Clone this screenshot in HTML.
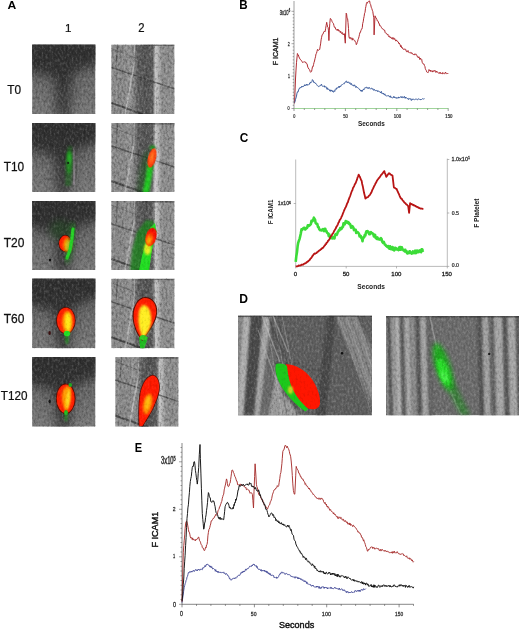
<!DOCTYPE html>
<html><head><meta charset="utf-8"><style>
html,body{margin:0;padding:0;background:#fff;}
svg{display:block;font-family:"Liberation Sans", sans-serif;filter:blur(0.3px);}
</style></head><body>
<svg width="520" height="629" viewBox="0 0 520 629">
<defs><filter id="nw" x="0" y="0" width="1" height="1" filterUnits="objectBoundingBox"><feTurbulence type="fractalNoise" baseFrequency="0.5 0.32" numOctaves="3" seed="3"/><feColorMatrix type="matrix" values="0 0 0 0 1  0 0 0 0 1  0 0 0 0 1  1.6 0 0 0 -0.8"/></filter>
<filter id="nb" x="0" y="0" width="1" height="1" filterUnits="objectBoundingBox"><feTurbulence type="fractalNoise" baseFrequency="0.5 0.32" numOctaves="3" seed="3"/><feColorMatrix type="matrix" values="0 0 0 0 0  0 0 0 0 0  0 0 0 0 0  -1.6 0 0 0 0.8"/></filter>
<linearGradient id="g1va0" x1="0" y1="0" x2="0" y2="1"><stop offset="0" stop-color="#2e2e2e" stop-opacity="1"/><stop offset="0.4" stop-color="#2e2e2e" stop-opacity="0.92"/><stop offset="1" stop-color="#2e2e2e" stop-opacity="0.68"/></linearGradient>
<clipPath id="ca0"><rect x="32.1" y="44.4" width="63.4" height="69.6"/></clipPath>
<linearGradient id="g1ba0" x1="0" y1="0" x2="0" y2="1"><stop offset="0.3" stop-color="#626262"/><stop offset="1" stop-color="#787878"/></linearGradient>
<linearGradient id="g2hb0" x1="0" y1="0" x2="1" y2="0"><stop offset="0" stop-color="#8a8a8a"/><stop offset="0.2" stop-color="#888"/><stop offset="0.3" stop-color="#929292"/><stop offset="0.37" stop-color="#7c7c7c"/><stop offset="0.42" stop-color="#5e5e5e"/><stop offset="0.55" stop-color="#545454"/><stop offset="0.655" stop-color="#5e5e5e"/><stop offset="0.7" stop-color="#c4c4c4"/><stop offset="0.745" stop-color="#b0b0b0"/><stop offset="0.8" stop-color="#8c8c8c"/><stop offset="1" stop-color="#8e8e8e"/></linearGradient>
<clipPath id="cb0"><rect x="111.2" y="44.4" width="63.4" height="69.6"/></clipPath>
<linearGradient id="g1va1" x1="0" y1="0" x2="0" y2="1"><stop offset="0" stop-color="#2e2e2e" stop-opacity="1"/><stop offset="0.4" stop-color="#2e2e2e" stop-opacity="0.92"/><stop offset="1" stop-color="#2e2e2e" stop-opacity="0.68"/></linearGradient>
<clipPath id="ca1"><rect x="32.1" y="123" width="63.4" height="69"/></clipPath>
<linearGradient id="g1ba1" x1="0" y1="0" x2="0" y2="1"><stop offset="0.3" stop-color="#626262"/><stop offset="1" stop-color="#787878"/></linearGradient>
<linearGradient id="g2hb1" x1="0" y1="0" x2="1" y2="0"><stop offset="0" stop-color="#8a8a8a"/><stop offset="0.2" stop-color="#888"/><stop offset="0.3" stop-color="#929292"/><stop offset="0.37" stop-color="#7c7c7c"/><stop offset="0.42" stop-color="#5e5e5e"/><stop offset="0.55" stop-color="#545454"/><stop offset="0.655" stop-color="#5e5e5e"/><stop offset="0.7" stop-color="#c4c4c4"/><stop offset="0.745" stop-color="#b0b0b0"/><stop offset="0.8" stop-color="#8c8c8c"/><stop offset="1" stop-color="#8e8e8e"/></linearGradient>
<clipPath id="cb1"><rect x="111.2" y="123" width="63.4" height="69"/></clipPath>
<linearGradient id="g1va2" x1="0" y1="0" x2="0" y2="1"><stop offset="0" stop-color="#2e2e2e" stop-opacity="1"/><stop offset="0.4" stop-color="#2e2e2e" stop-opacity="0.92"/><stop offset="1" stop-color="#2e2e2e" stop-opacity="0.68"/></linearGradient>
<clipPath id="ca2"><rect x="32.1" y="201" width="63.4" height="69"/></clipPath>
<linearGradient id="g1ba2" x1="0" y1="0" x2="0" y2="1"><stop offset="0.3" stop-color="#626262"/><stop offset="1" stop-color="#787878"/></linearGradient>
<linearGradient id="g2hb2" x1="0" y1="0" x2="1" y2="0"><stop offset="0" stop-color="#8a8a8a"/><stop offset="0.2" stop-color="#888"/><stop offset="0.3" stop-color="#929292"/><stop offset="0.37" stop-color="#7c7c7c"/><stop offset="0.42" stop-color="#5e5e5e"/><stop offset="0.55" stop-color="#545454"/><stop offset="0.655" stop-color="#5e5e5e"/><stop offset="0.7" stop-color="#c4c4c4"/><stop offset="0.745" stop-color="#b0b0b0"/><stop offset="0.8" stop-color="#8c8c8c"/><stop offset="1" stop-color="#8e8e8e"/></linearGradient>
<clipPath id="cb2"><rect x="111.2" y="201" width="63.4" height="69"/></clipPath>
<linearGradient id="g1va3" x1="0" y1="0" x2="0" y2="1"><stop offset="0" stop-color="#2e2e2e" stop-opacity="1"/><stop offset="0.4" stop-color="#2e2e2e" stop-opacity="0.92"/><stop offset="1" stop-color="#2e2e2e" stop-opacity="0.68"/></linearGradient>
<clipPath id="ca3"><rect x="32.1" y="278.6" width="63.4" height="69.7"/></clipPath>
<linearGradient id="g1ba3" x1="0" y1="0" x2="0" y2="1"><stop offset="0.3" stop-color="#626262"/><stop offset="1" stop-color="#787878"/></linearGradient>
<linearGradient id="g2hb3" x1="0" y1="0" x2="1" y2="0"><stop offset="0" stop-color="#8a8a8a"/><stop offset="0.2" stop-color="#888"/><stop offset="0.3" stop-color="#929292"/><stop offset="0.37" stop-color="#7c7c7c"/><stop offset="0.42" stop-color="#5e5e5e"/><stop offset="0.55" stop-color="#545454"/><stop offset="0.655" stop-color="#5e5e5e"/><stop offset="0.7" stop-color="#c4c4c4"/><stop offset="0.745" stop-color="#b0b0b0"/><stop offset="0.8" stop-color="#8c8c8c"/><stop offset="1" stop-color="#8e8e8e"/></linearGradient>
<clipPath id="cb3"><rect x="111.2" y="278.6" width="63.4" height="69.7"/></clipPath>
<linearGradient id="g1va4" x1="0" y1="0" x2="0" y2="1"><stop offset="0" stop-color="#2e2e2e" stop-opacity="1"/><stop offset="0.4" stop-color="#2e2e2e" stop-opacity="0.92"/><stop offset="1" stop-color="#2e2e2e" stop-opacity="0.68"/></linearGradient>
<clipPath id="ca4"><rect x="32.1" y="357.1" width="63.4" height="69.6"/></clipPath>
<linearGradient id="g1ba4" x1="0" y1="0" x2="0" y2="1"><stop offset="0.3" stop-color="#626262"/><stop offset="1" stop-color="#787878"/></linearGradient>
<linearGradient id="g2hb4" x1="0" y1="0" x2="1" y2="0"><stop offset="0" stop-color="#8a8a8a"/><stop offset="0.2" stop-color="#888"/><stop offset="0.3" stop-color="#929292"/><stop offset="0.37" stop-color="#7c7c7c"/><stop offset="0.42" stop-color="#5e5e5e"/><stop offset="0.55" stop-color="#545454"/><stop offset="0.655" stop-color="#5e5e5e"/><stop offset="0.7" stop-color="#c4c4c4"/><stop offset="0.745" stop-color="#b0b0b0"/><stop offset="0.8" stop-color="#8c8c8c"/><stop offset="1" stop-color="#8e8e8e"/></linearGradient>
<clipPath id="cb4"><rect x="115.2" y="357.1" width="63.4" height="69.6"/></clipPath>
<filter id="bl05" x="-50%" y="-50%" width="200%" height="200%"><feGaussianBlur stdDeviation="0.5"/></filter>
<filter id="bl1" x="-50%" y="-50%" width="200%" height="200%"><feGaussianBlur stdDeviation="1"/></filter>
<filter id="bl2" x="-50%" y="-50%" width="200%" height="200%"><feGaussianBlur stdDeviation="2"/></filter>
<filter id="bl4" x="-50%" y="-50%" width="200%" height="200%"><feGaussianBlur stdDeviation="4"/></filter>
<filter id="bl6" x="-50%" y="-50%" width="200%" height="200%"><feGaussianBlur stdDeviation="5.5"/></filter>
<filter id="bl3" x="-50%" y="-50%" width="200%" height="200%"><feGaussianBlur stdDeviation="3"/></filter>
<radialGradient id="ry" cx="0.6" cy="0.6" r="0.6"><stop offset="0" stop-color="#ffee10"/><stop offset="0.45" stop-color="#ffb000"/><stop offset="0.8" stop-color="#ff2a00"/><stop offset="1" stop-color="#ee1500"/></radialGradient>
<radialGradient id="ry2" cx="0.45" cy="0.62" r="0.55"><stop offset="0" stop-color="#ffff20"/><stop offset="0.5" stop-color="#ffdd10"/><stop offset="0.85" stop-color="#ff3000"/><stop offset="1" stop-color="#ff1500"/></radialGradient>
<radialGradient id="ry3" cx="0.4" cy="0.7" r="0.55"><stop offset="0" stop-color="#ffc000"/><stop offset="0.45" stop-color="#ff6000"/><stop offset="0.8" stop-color="#ff1a00"/><stop offset="1" stop-color="#f01000"/></radialGradient>
<clipPath id="co1"><rect x="32.1" y="123" width="63.4" height="69"/></clipPath>
<clipPath id="co2"><rect x="111.2" y="123" width="63.4" height="69"/></clipPath>
<radialGradient id="rorg" cx="0.45" cy="0.45" r="0.6"><stop offset="0" stop-color="#ff7a20"/><stop offset="0.6" stop-color="#ff4a10"/><stop offset="1" stop-color="#e82800"/></radialGradient>
<clipPath id="co3"><rect x="32.1" y="201" width="63.4" height="69"/></clipPath>
<clipPath id="co4"><rect x="111.2" y="201" width="63.4" height="69"/></clipPath>
<clipPath id="co5"><rect x="32.1" y="278.6" width="63.4" height="69.7"/></clipPath>
<clipPath id="co6"><rect x="111.2" y="278.6" width="63.4" height="69.7"/></clipPath>
<clipPath id="co7"><rect x="32.1" y="357.1" width="63.4" height="69.6"/></clipPath>
<clipPath id="co8"><rect x="115.2" y="357.1" width="63.4" height="69.6"/></clipPath>
<clipPath id="cd1"><rect x="238" y="315.5" width="134" height="100"/></clipPath>
<clipPath id="cd2"><rect x="386" y="316" width="133" height="99.4"/></clipPath></defs>
<rect width="520" height="629" fill="#fff"/>
<text transform="matrix(1.2121 0.0000 0.0000 1.1618 7.5364 8.9162)" font-size="10" font-weight="bold" fill="#000">A</text>
<text transform="matrix(1.1628 0.0000 0.0000 1.1594 64.9698 31.8000)" font-size="10" font-weight="normal" fill="#111" stroke="#111" stroke-width="0.2">1</text>
<text transform="matrix(1.1304 0.0000 0.0000 1.2286 138.2348 31.8000)" font-size="10" font-weight="normal" fill="#111" stroke="#111" stroke-width="0.2">2</text>
<text transform="matrix(1.1802 0.0000 0.0000 1.2254 7.2640 93.5775)" font-size="10" font-weight="normal" fill="#111" stroke="#111" stroke-width="0.2">T0</text>
<text transform="matrix(1.1867 0.0000 0.0000 1.2817 3.7627 170.6718)" font-size="10" font-weight="normal" fill="#111" stroke="#111" stroke-width="0.2">T10</text>
<text transform="matrix(1.1988 0.0000 0.0000 1.2676 3.7602 246.8732)" font-size="10" font-weight="normal" fill="#111" stroke="#111" stroke-width="0.2">T20</text>
<text transform="matrix(1.1988 0.0000 0.0000 1.2676 3.7602 323.2732)" font-size="10" font-weight="normal" fill="#111" stroke="#111" stroke-width="0.2">T60</text>
<text transform="matrix(1.1712 0.0000 0.0000 1.2254 0.8658 399.6775)" font-size="10" font-weight="normal" fill="#111" stroke="#111" stroke-width="0.2">T120</text>
<text transform="matrix(1.1639 0.0000 0.0000 1.2029 239.2852 9.0000)" font-size="10" font-weight="bold" fill="#000">B</text>
<text transform="matrix(1.1846 0.0000 0.0000 1.2958 239.7262 141.6704)" font-size="10" font-weight="bold" fill="#000">C</text>
<text transform="matrix(1.2131 0.0000 0.0000 1.2754 239.2508 302.7000)" font-size="10" font-weight="bold" fill="#000">D</text>
<text transform="matrix(1.1071 0.0000 0.0000 1.3043 134.8250 451.8000)" font-size="10" font-weight="bold" fill="#000">E</text>
<text transform="matrix(0.4065 0.0000 0.0000 0.8000 279.8374 14.6200)" font-size="10" font-weight="normal" fill="#333" stroke="#333" stroke-width="0.5">3x10<tspan font-size="0.65em" dy="-0.45em">6</tspan></text>
<text transform="matrix(0.3696 0.0000 0.0000 0.5143 287.8152 45.6000)" font-size="10" font-weight="normal" fill="#333" stroke="#333" stroke-width="0.5">2</text>
<text transform="matrix(0.3488 0.0000 0.0000 0.5072 287.9209 78.0000)" font-size="10" font-weight="normal" fill="#333" stroke="#333" stroke-width="0.5">1</text>
<text transform="matrix(0.3750 0.0000 0.0000 0.4930 287.5500 110.2507)" font-size="10" font-weight="normal" fill="#333" stroke="#333" stroke-width="0.5">0</text>
<text transform="matrix(0.3750 0.0000 0.0000 0.4789 293.2500 117.9521)" font-size="10" font-weight="normal" fill="#333" stroke="#333" stroke-width="0.5">0</text>
<text transform="matrix(0.4175 0.0000 0.0000 0.4648 343.2330 117.7535)" font-size="10" font-weight="normal" fill="#333" stroke="#333" stroke-width="0.5">50</text>
<text transform="matrix(0.4323 0.0000 0.0000 0.4789 393.8542 117.7521)" font-size="10" font-weight="normal" fill="#333" stroke="#333" stroke-width="0.5">100</text>
<text transform="matrix(0.4323 0.0000 0.0000 0.4789 445.2542 117.7521)" font-size="10" font-weight="normal" fill="#333" stroke="#333" stroke-width="0.5">150</text>
<text transform="matrix(0.6439 0.0000 0.0000 0.7162 358.0068 126.4284)" font-size="10" font-weight="bold" fill="#222">Seconds</text>
<text transform="matrix(0.0000 -0.6982 0.6620 0.0000 278.4338 65.1585)" font-size="10" font-weight="normal" fill="#222" stroke="#222" stroke-width="0.5">F ICAM1</text>
<text transform="matrix(0.5207 0.0000 0.0000 0.6000 277.7835 205.4400)" font-size="10" font-weight="normal" fill="#333" stroke="#333" stroke-width="0.5">1x10<tspan font-size="0.65em" dy="-0.45em">6</tspan></text>
<text transform="matrix(0.0000 -0.6179 0.7465 0.0000 273.3254 224.3326)" font-size="10" font-weight="bold" fill="#222">F ICAM1</text>
<text transform="matrix(0.0000 -0.6606 0.7297 0.0000 478.6270 227.8624)" font-size="10" font-weight="bold" fill="#222">F Platelet</text>
<text transform="matrix(0.5508 0.0000 0.0000 0.5333 451.4594 160.9467)" font-size="10" font-weight="normal" fill="#333" stroke="#333" stroke-width="0.5">1.0x10<tspan font-size="0.65em" dy="-0.45em">1</tspan></text>
<text transform="matrix(0.5191 0.0000 0.0000 0.4789 451.7924 215.1521)" font-size="10" font-weight="normal" fill="#333" stroke="#333" stroke-width="0.5">0.5</text>
<text transform="matrix(0.5191 0.0000 0.0000 0.4930 451.7924 267.4507)" font-size="10" font-weight="normal" fill="#333" stroke="#333" stroke-width="0.5">0.0</text>
<text transform="matrix(0.6042 0.0000 0.0000 0.5211 293.8583 275.8479)" font-size="10" font-weight="normal" fill="#222" stroke="#222" stroke-width="0.5">0</text>
<text transform="matrix(0.6019 0.0000 0.0000 0.5070 342.7592 275.9493)" font-size="10" font-weight="normal" fill="#222" stroke="#222" stroke-width="0.5">50</text>
<text transform="matrix(0.6065 0.0000 0.0000 0.5070 391.3148 275.9493)" font-size="10" font-weight="normal" fill="#222" stroke="#222" stroke-width="0.5">100</text>
<text transform="matrix(0.6065 0.0000 0.0000 0.5070 441.8148 275.9493)" font-size="10" font-weight="normal" fill="#222" stroke="#222" stroke-width="0.5">150</text>
<text transform="matrix(0.6634 0.0000 0.0000 0.7838 357.3010 288.9216)" font-size="10" font-weight="bold" fill="#222">Seconds</text>
<text transform="matrix(0.5772 0.0000 0.0000 1.0000 161.0691 463.7000)" font-size="10" font-weight="normal" fill="#333" stroke="#333" stroke-width="0.5">3x10<tspan font-size="0.65em" dy="-0.45em">5</tspan></text>
<text transform="matrix(0.5000 0.0000 0.0000 0.5429 172.6500 510.8000)" font-size="10" font-weight="normal" fill="#333" stroke="#333" stroke-width="0.5">2</text>
<text transform="matrix(0.3953 0.0000 0.0000 0.5507 172.9837 558.0000)" font-size="10" font-weight="normal" fill="#333" stroke="#333" stroke-width="0.5">1</text>
<text transform="matrix(0.5417 0.0000 0.0000 0.6479 172.8833 606.6352)" font-size="10" font-weight="normal" fill="#333" stroke="#333" stroke-width="0.5">0</text>
<text transform="matrix(0.5208 0.0000 0.0000 0.6479 179.8917 616.3352)" font-size="10" font-weight="normal" fill="#333" stroke="#333" stroke-width="0.5">0</text>
<text transform="matrix(0.5146 0.0000 0.0000 0.5634 250.7942 615.9437)" font-size="10" font-weight="normal" fill="#333" stroke="#333" stroke-width="0.5">50</text>
<text transform="matrix(0.5484 0.0000 0.0000 0.5634 321.8613 615.9437)" font-size="10" font-weight="normal" fill="#333" stroke="#333" stroke-width="0.5">100</text>
<text transform="matrix(0.4839 0.0000 0.0000 0.5634 395.1129 615.9437)" font-size="10" font-weight="normal" fill="#333" stroke="#333" stroke-width="0.5">150</text>
<text transform="matrix(0.9081 0.0000 0.0000 0.9189 278.9459 627.7081)" font-size="10" font-weight="normal" fill="#111" stroke="#111" stroke-width="0.45">Seconds</text>
<text transform="matrix(0.0000 -0.9081 0.8592 0.0000 157.8141 547.5265)" font-size="10" font-weight="normal" fill="#111" stroke="#111" stroke-width="0.45">F ICAM1</text>
<g clip-path="url(#ca0)">
<rect x="32.1" y="44.4" width="63.4" height="69.6" fill="url(#g1ba0)"/>
<path d="M25.8 37.4 L101.8 37.4 L101.8 62.5 L86.0 66.7 L72.7 73.6 L70.1 121.0 L55.6 121.0 L54.3 77.8 L41.6 73.6 L25.8 70.8 Z" fill="url(#g1va0)" filter="url(#bl6)"/>
<rect x="32.1" y="44.4" width="63.4" height="69.6" fill="#000" filter="url(#nw)" opacity="0.16"/>
<rect x="32.1" y="44.4" width="63.4" height="69.6" fill="#000" filter="url(#nb)" opacity="0.28"/>
</g>
<g clip-path="url(#cb0)">
<rect x="111.2" y="44.4" width="63.4" height="69.6" fill="url(#g2hb0)"/>
<line x1="111.2" y1="67.368" x2="174.6" y2="88.94399999999999" stroke="#333" stroke-width="1.5" opacity="0.6" filter="url(#bl05)"/>
<line x1="111.2" y1="102.86399999999999" x2="146.07" y2="115.392" stroke="#2a2a2a" stroke-width="2" opacity="0.65" filter="url(#bl05)"/>
<line x1="111.2" y1="48.576" x2="136.56" y2="58.32" stroke="#444" stroke-width="1" opacity="0.4" filter="url(#bl05)"/>
<line x1="134.024" y1="65.28" x2="125.148" y2="114.0" stroke="#c8c8c8" stroke-width="1.6" opacity="0.6" filter="url(#bl05)"/>
<line x1="117.54" y1="44.4" x2="116.272" y2="65.28" stroke="#3a3a3a" stroke-width="1.2" opacity="0.5" filter="url(#bl05)"/>
<line x1="134.65800000000002" y1="44.4" x2="134.024" y2="65.28" stroke="#c0c0c0" stroke-width="1.2" opacity="0.5" filter="url(#bl05)"/>
<rect x="142.9" y="44.4" width="31.7" height="1.6" fill="#333" opacity="0.5"/>
<rect x="111.2" y="44.4" width="63.4" height="69.6" fill="#000" filter="url(#nw)" opacity="0.3"/>
<rect x="111.2" y="44.4" width="63.4" height="69.6" fill="#000" filter="url(#nb)" opacity="0.35"/>
</g>
<g clip-path="url(#ca1)">
<rect x="32.1" y="123" width="63.4" height="69" fill="url(#g1ba1)"/>
<path d="M25.8 116.1 L101.8 116.1 L101.8 140.9 L86.0 145.1 L72.7 152.0 L70.1 198.9 L55.6 198.9 L54.3 156.1 L41.6 152.0 L25.8 149.2 Z" fill="url(#g1va1)" filter="url(#bl6)"/>
<rect x="32.1" y="123" width="63.4" height="69" fill="#000" filter="url(#nw)" opacity="0.16"/>
<rect x="32.1" y="123" width="63.4" height="69" fill="#000" filter="url(#nb)" opacity="0.28"/>
</g>
<g clip-path="url(#cb1)">
<rect x="111.2" y="123" width="63.4" height="69" fill="url(#g2hb1)"/>
<line x1="111.2" y1="145.77" x2="174.6" y2="167.16" stroke="#333" stroke-width="1.5" opacity="0.6" filter="url(#bl05)"/>
<line x1="111.2" y1="180.96" x2="146.07" y2="193.38" stroke="#2a2a2a" stroke-width="2" opacity="0.65" filter="url(#bl05)"/>
<line x1="111.2" y1="127.14" x2="136.56" y2="136.8" stroke="#444" stroke-width="1" opacity="0.4" filter="url(#bl05)"/>
<line x1="134.024" y1="143.7" x2="125.148" y2="192" stroke="#c8c8c8" stroke-width="1.6" opacity="0.6" filter="url(#bl05)"/>
<line x1="117.54" y1="123" x2="116.272" y2="143.7" stroke="#3a3a3a" stroke-width="1.2" opacity="0.5" filter="url(#bl05)"/>
<line x1="134.65800000000002" y1="123" x2="134.024" y2="143.7" stroke="#c0c0c0" stroke-width="1.2" opacity="0.5" filter="url(#bl05)"/>
<rect x="142.9" y="123" width="31.7" height="1.6" fill="#333" opacity="0.5"/>
<rect x="111.2" y="123" width="63.4" height="69" fill="#000" filter="url(#nw)" opacity="0.3"/>
<rect x="111.2" y="123" width="63.4" height="69" fill="#000" filter="url(#nb)" opacity="0.35"/>
</g>
<g clip-path="url(#ca2)">
<rect x="32.1" y="201" width="63.4" height="69" fill="url(#g1ba2)"/>
<path d="M25.8 194.1 L101.8 194.1 L101.8 218.9 L86.0 223.1 L72.7 230.0 L70.1 276.9 L55.6 276.9 L54.3 234.1 L41.6 230.0 L25.8 227.2 Z" fill="url(#g1va2)" filter="url(#bl6)"/>
<rect x="32.1" y="201" width="63.4" height="69" fill="#000" filter="url(#nw)" opacity="0.16"/>
<rect x="32.1" y="201" width="63.4" height="69" fill="#000" filter="url(#nb)" opacity="0.28"/>
</g>
<g clip-path="url(#cb2)">
<rect x="111.2" y="201" width="63.4" height="69" fill="url(#g2hb2)"/>
<line x1="111.2" y1="223.77" x2="174.6" y2="245.16" stroke="#333" stroke-width="1.5" opacity="0.6" filter="url(#bl05)"/>
<line x1="111.2" y1="258.96" x2="146.07" y2="271.38" stroke="#2a2a2a" stroke-width="2" opacity="0.65" filter="url(#bl05)"/>
<line x1="111.2" y1="205.14" x2="136.56" y2="214.8" stroke="#444" stroke-width="1" opacity="0.4" filter="url(#bl05)"/>
<line x1="134.024" y1="221.7" x2="125.148" y2="270" stroke="#c8c8c8" stroke-width="1.6" opacity="0.6" filter="url(#bl05)"/>
<line x1="117.54" y1="201" x2="116.272" y2="221.7" stroke="#3a3a3a" stroke-width="1.2" opacity="0.5" filter="url(#bl05)"/>
<line x1="134.65800000000002" y1="201" x2="134.024" y2="221.7" stroke="#c0c0c0" stroke-width="1.2" opacity="0.5" filter="url(#bl05)"/>
<rect x="142.9" y="201" width="31.7" height="1.6" fill="#333" opacity="0.5"/>
<rect x="111.2" y="201" width="63.4" height="69" fill="#000" filter="url(#nw)" opacity="0.3"/>
<rect x="111.2" y="201" width="63.4" height="69" fill="#000" filter="url(#nb)" opacity="0.35"/>
</g>
<g clip-path="url(#ca3)">
<rect x="32.1" y="278.6" width="63.4" height="69.7" fill="url(#g1ba3)"/>
<path d="M25.8 271.6 L101.8 271.6 L101.8 296.7 L86.0 300.9 L72.7 307.9 L70.1 355.3 L55.6 355.3 L54.3 312.1 L41.6 307.9 L25.8 305.1 Z" fill="url(#g1va3)" filter="url(#bl6)"/>
<rect x="32.1" y="278.6" width="63.4" height="69.7" fill="#000" filter="url(#nw)" opacity="0.16"/>
<rect x="32.1" y="278.6" width="63.4" height="69.7" fill="#000" filter="url(#nb)" opacity="0.28"/>
</g>
<g clip-path="url(#cb3)">
<rect x="111.2" y="278.6" width="63.4" height="69.7" fill="url(#g2hb3)"/>
<line x1="111.2" y1="301.601" x2="174.6" y2="323.208" stroke="#333" stroke-width="1.5" opacity="0.6" filter="url(#bl05)"/>
<line x1="111.2" y1="337.148" x2="146.07" y2="349.694" stroke="#2a2a2a" stroke-width="2" opacity="0.65" filter="url(#bl05)"/>
<line x1="111.2" y1="282.78200000000004" x2="136.56" y2="292.54" stroke="#444" stroke-width="1" opacity="0.4" filter="url(#bl05)"/>
<line x1="134.024" y1="299.51000000000005" x2="125.148" y2="348.3" stroke="#c8c8c8" stroke-width="1.6" opacity="0.6" filter="url(#bl05)"/>
<line x1="117.54" y1="278.6" x2="116.272" y2="299.51000000000005" stroke="#3a3a3a" stroke-width="1.2" opacity="0.5" filter="url(#bl05)"/>
<line x1="134.65800000000002" y1="278.6" x2="134.024" y2="299.51000000000005" stroke="#c0c0c0" stroke-width="1.2" opacity="0.5" filter="url(#bl05)"/>
<rect x="142.9" y="278.6" width="31.7" height="1.6" fill="#333" opacity="0.5"/>
<rect x="111.2" y="278.6" width="63.4" height="69.7" fill="#000" filter="url(#nw)" opacity="0.3"/>
<rect x="111.2" y="278.6" width="63.4" height="69.7" fill="#000" filter="url(#nb)" opacity="0.35"/>
</g>
<g clip-path="url(#ca4)">
<rect x="32.1" y="357.1" width="63.4" height="69.6" fill="url(#g1ba4)"/>
<path d="M25.8 350.1 L101.8 350.1 L101.8 375.2 L86.0 379.4 L72.7 386.3 L70.1 433.7 L55.6 433.7 L54.3 390.5 L41.6 386.3 L25.8 383.5 Z" fill="url(#g1va4)" filter="url(#bl6)"/>
<rect x="32.1" y="357.1" width="63.4" height="69.6" fill="#000" filter="url(#nw)" opacity="0.16"/>
<rect x="32.1" y="357.1" width="63.4" height="69.6" fill="#000" filter="url(#nb)" opacity="0.28"/>
</g>
<g clip-path="url(#cb4)">
<rect x="115.2" y="357.1" width="63.4" height="69.6" fill="url(#g2hb4)"/>
<line x1="115.2" y1="380.06800000000004" x2="178.6" y2="401.644" stroke="#333" stroke-width="1.5" opacity="0.6" filter="url(#bl05)"/>
<line x1="115.2" y1="415.564" x2="150.07" y2="428.092" stroke="#2a2a2a" stroke-width="2" opacity="0.65" filter="url(#bl05)"/>
<line x1="115.2" y1="361.276" x2="140.56" y2="371.02000000000004" stroke="#444" stroke-width="1" opacity="0.4" filter="url(#bl05)"/>
<line x1="138.024" y1="377.98" x2="129.148" y2="426.70000000000005" stroke="#c8c8c8" stroke-width="1.6" opacity="0.6" filter="url(#bl05)"/>
<line x1="121.54" y1="357.1" x2="120.272" y2="377.98" stroke="#3a3a3a" stroke-width="1.2" opacity="0.5" filter="url(#bl05)"/>
<line x1="138.65800000000002" y1="357.1" x2="138.024" y2="377.98" stroke="#c0c0c0" stroke-width="1.2" opacity="0.5" filter="url(#bl05)"/>
<rect x="146.9" y="357.1" width="31.7" height="1.6" fill="#333" opacity="0.5"/>
<rect x="115.2" y="357.1" width="63.4" height="69.6" fill="#000" filter="url(#nw)" opacity="0.3"/>
<rect x="115.2" y="357.1" width="63.4" height="69.6" fill="#000" filter="url(#nb)" opacity="0.35"/>
</g>
<g clip-path="url(#co1)">
<path d="M65 186 L66 160 L68 146 L72 146 L73 165 L71 186 Z" fill="#1a6a1a" opacity="0.55" filter="url(#bl1)"/>
<ellipse cx="69" cy="162" rx="2.6" ry="12" fill="#229622" opacity="0.8" filter="url(#bl1)"/>
<ellipse cx="69.5" cy="158" rx="1.6" ry="6" fill="#2cb82c" opacity="0.8" filter="url(#bl1)"/>
<ellipse cx="68" cy="163" rx="1.2" ry="1.2" fill="#102010" opacity="0.9"/>
<path d="M73 148 L75 150 L75 185 L73 185 Z" fill="#b0a0b0" opacity="0.35" filter="url(#bl05)"/>
</g>
<g clip-path="url(#co2)">
<path d="M137 192 L140 170 L145 152 L150 150 L148 175 L146 192 Z" fill="#1a5a1a" opacity="0.55" filter="url(#bl2)"/>
<path d="M152 192 L154 165 L157 150 L160 152 L158 170 L157 192 Z" fill="#d8d0d8" opacity="0.45" filter="url(#bl1)"/>
<path d="M142.5 193 L145.5 178 L147.5 164 L153.5 164 L151.5 178 L149 193 Z" fill="#22c822" filter="url(#bl1)"/>
<ellipse cx="152.5" cy="147.5" rx="2.8" ry="2.2" fill="#1f8f1f" filter="url(#bl1)"/>
<ellipse cx="152" cy="158" rx="4" ry="10" transform="rotate(14 152 158)" fill="url(#rorg)" filter="url(#bl05)"/>
</g>
<g clip-path="url(#co3)">
<ellipse cx="60" cy="230" rx="10" ry="10" fill="#1a5a1a" opacity="0.35" filter="url(#bl3)"/>
<ellipse cx="65.3" cy="243.5" rx="6.8" ry="8.4" fill="#3a0000" filter="url(#bl05)"/>
<ellipse cx="65.3" cy="243.5" rx="6.2" ry="7.9" fill="#ff2000"/>
<ellipse cx="67.5" cy="245" rx="4.2" ry="7" fill="#ff9a00" filter="url(#bl1)"/>
<ellipse cx="68.5" cy="246" rx="2.6" ry="5" fill="#ffd820" filter="url(#bl1)"/>
<path d="M73 226 L71.8 240 L70 250 L67 260" stroke="#1a7a1a" stroke-width="6" fill="none" stroke-linecap="round" opacity="0.6" filter="url(#bl2)"/>
<path d="M73 229 L71.8 240 L70 250 L67 258" stroke="#26d026" stroke-width="3.2" fill="none" stroke-linecap="round" filter="url(#bl05)"/>
<ellipse cx="50" cy="260" rx="1.2" ry="1.2" fill="#111"/>
</g>
<g clip-path="url(#co4)">
<path d="M130 271 L132 250 L137 232 L146 220 L154 221 L152 240 L147 260 L145 271 Z" fill="#248024" opacity="0.85" filter="url(#bl1)"/>
<path d="M139 271 L142 256 L146 242 L150 228 L155 223 L156.5 232 L152 250 L149 271 Z" fill="#22dd22" filter="url(#bl05)"/>
<ellipse cx="147.5" cy="249" rx="3.5" ry="6" fill="#e8ee22" filter="url(#bl1)"/>
<ellipse cx="151" cy="237" rx="5.4" ry="9.6" transform="rotate(15 151 237)" fill="url(#ry3)" filter="url(#bl05)"/>
</g>
<g clip-path="url(#co5)">
<path d="M64.5 330 L69.5 330 L67.8 344 L66 344 Z" fill="#1f9a1f" opacity="0.85" filter="url(#bl1)"/>
<ellipse cx="65.9" cy="320.5" rx="9.8" ry="13.6" fill="#5a0a00" filter="url(#bl05)"/>
<ellipse cx="65.9" cy="320.5" rx="9" ry="12.8" fill="#ff2000"/>
<ellipse cx="67.3" cy="322" rx="5.2" ry="11" fill="#ff9000" filter="url(#bl1)"/>
<ellipse cx="68" cy="322" rx="3.2" ry="9.5" fill="#ffe818" filter="url(#bl1)"/>
<ellipse cx="67" cy="333.5" rx="3.2" ry="2.8" fill="#22dd22" filter="url(#bl05)"/>
<ellipse cx="49.6" cy="333" rx="1.3" ry="2" fill="#3a1010"/>
</g>
<g clip-path="url(#co6)">
<path d="M139 337 L148 337 L144.2 349 L140.2 349 Z" fill="#22bb22" filter="url(#bl05)"/>
<path d="M145 297 C152 297 157.6 303 157.2 312 C156.8 322 149 332 142.2 341 C136.5 334 132.6 325 132.6 316 C132.6 305 138.5 297 145 297 Z" fill="#5a0a00" filter="url(#bl05)"/>
<path d="M145 298 C151.5 298 156.6 303.5 156.2 312 C155.8 321 148.5 331 142.2 339.8 C137 333 133.6 324 133.6 316 C133.6 306 139 298 145 298 Z" fill="#ff1e00"/>
<path d="M144 305 C149 306 152 313 151 322 C150.5 329 146.5 334 143 338.5 C139.5 332 138 323 138.5 316 C139 310 140.5 305 144 305 Z" fill="#ffee20" filter="url(#bl1)"/>
<ellipse cx="143" cy="337.5" rx="3.5" ry="2.5" fill="#33cc22" filter="url(#bl05)"/>
</g>
<g clip-path="url(#co7)">
<path d="M64.5 410 L67.5 410 L67 421 L65 421 Z" fill="#1f9a1f" opacity="0.85" filter="url(#bl1)"/>
<ellipse cx="65.7" cy="398.7" rx="9.8" ry="15.1" fill="#5a0a00" filter="url(#bl05)"/>
<ellipse cx="65.7" cy="398.7" rx="9" ry="14.3" fill="#ff2000"/>
<path d="M69.5 386 C72 392 71 404 66.5 411.5 C62 406 61 396 63 390 C65 387 67.5 385.5 69.5 386 Z" fill="#ff9a00" filter="url(#bl1)"/>
<path d="M69.5 388 C71 394 70 404 66.5 410 C65 404 66 395 69.5 388 Z" fill="#ffe020" filter="url(#bl1)"/>
<ellipse cx="70.3" cy="385" rx="1.8" ry="2" fill="#22aa22" filter="url(#bl05)"/>
<ellipse cx="66" cy="412.5" rx="2" ry="2.5" fill="#22bb22" filter="url(#bl05)"/>
<ellipse cx="49.6" cy="401.4" rx="1.2" ry="1.8" fill="#151515"/>
</g>
<g clip-path="url(#co8)">
<path d="M152.4 374.8 C156.5 374.8 160 380 159.9 387.1 C159.8 393 157.8 399 153.6 408.4 C150.6 414.4 146.6 420.4 143 426.5 L138.8 426.5 C138.2 418 138.2 405 139.2 396.5 C140.2 388 144.5 376.2 152.4 374.8 Z" fill="#5a0a00" filter="url(#bl05)"/>
<path d="M152.4 375.6 C156 375.6 159.2 380 159.1 387.1 C159 393 157 399 152.9 408.1 C150 414 146 420 142.4 426 L139.5 426 C139 418 139 405 140 396.6 C141 388 145 377 152.4 375.6 Z" fill="#ff1a00"/>
<ellipse cx="147.7" cy="404" rx="4.3" ry="10.5" transform="rotate(12 147.7 404)" fill="#ff8a00" filter="url(#bl1)"/>
<ellipse cx="147.5" cy="403" rx="2.3" ry="7" transform="rotate(12 147.5 403)" fill="#ffc010" filter="url(#bl1)"/>
</g>
<rect x="32.1" y="44.4" width="63.4" height="69.6" fill="#000" filter="url(#nw)" opacity="0.12"/>
<rect x="32.1" y="44.4" width="63.4" height="69.6" fill="#000" filter="url(#nb)" opacity="0.18"/>
<rect x="111.2" y="44.4" width="63.4" height="69.6" fill="#000" filter="url(#nw)" opacity="0.12"/>
<rect x="111.2" y="44.4" width="63.4" height="69.6" fill="#000" filter="url(#nb)" opacity="0.18"/>
<rect x="32.1" y="123" width="63.4" height="69" fill="#000" filter="url(#nw)" opacity="0.12"/>
<rect x="32.1" y="123" width="63.4" height="69" fill="#000" filter="url(#nb)" opacity="0.18"/>
<rect x="111.2" y="123" width="63.4" height="69" fill="#000" filter="url(#nw)" opacity="0.12"/>
<rect x="111.2" y="123" width="63.4" height="69" fill="#000" filter="url(#nb)" opacity="0.18"/>
<rect x="32.1" y="201" width="63.4" height="69" fill="#000" filter="url(#nw)" opacity="0.12"/>
<rect x="32.1" y="201" width="63.4" height="69" fill="#000" filter="url(#nb)" opacity="0.18"/>
<rect x="111.2" y="201" width="63.4" height="69" fill="#000" filter="url(#nw)" opacity="0.12"/>
<rect x="111.2" y="201" width="63.4" height="69" fill="#000" filter="url(#nb)" opacity="0.18"/>
<rect x="32.1" y="278.6" width="63.4" height="69.7" fill="#000" filter="url(#nw)" opacity="0.12"/>
<rect x="32.1" y="278.6" width="63.4" height="69.7" fill="#000" filter="url(#nb)" opacity="0.18"/>
<rect x="111.2" y="278.6" width="63.4" height="69.7" fill="#000" filter="url(#nw)" opacity="0.12"/>
<rect x="111.2" y="278.6" width="63.4" height="69.7" fill="#000" filter="url(#nb)" opacity="0.18"/>
<rect x="32.1" y="357.1" width="63.4" height="69.6" fill="#000" filter="url(#nw)" opacity="0.12"/>
<rect x="32.1" y="357.1" width="63.4" height="69.6" fill="#000" filter="url(#nb)" opacity="0.18"/>
<rect x="115.2" y="357.1" width="63.4" height="69.6" fill="#000" filter="url(#nw)" opacity="0.12"/>
<rect x="115.2" y="357.1" width="63.4" height="69.6" fill="#000" filter="url(#nb)" opacity="0.18"/>
<line x1="294" y1="1" x2="294" y2="108.6" stroke="#888" stroke-width="0.8"/>
<line x1="294" y1="108.5" x2="448.5" y2="108.5" stroke="#9fd49a" stroke-width="1"/>
<line x1="294.0" y1="108.5" x2="294.0" y2="111.0" stroke="#555" stroke-width="0.6"/>
<line x1="304.3" y1="108.5" x2="304.3" y2="110.0" stroke="#555" stroke-width="0.6"/>
<line x1="314.6" y1="108.5" x2="314.6" y2="110.0" stroke="#555" stroke-width="0.6"/>
<line x1="324.8" y1="108.5" x2="324.8" y2="110.0" stroke="#555" stroke-width="0.6"/>
<line x1="335.1" y1="108.5" x2="335.1" y2="110.0" stroke="#555" stroke-width="0.6"/>
<line x1="345.4" y1="108.5" x2="345.4" y2="111.0" stroke="#555" stroke-width="0.6"/>
<line x1="355.7" y1="108.5" x2="355.7" y2="110.0" stroke="#555" stroke-width="0.6"/>
<line x1="366.0" y1="108.5" x2="366.0" y2="110.0" stroke="#555" stroke-width="0.6"/>
<line x1="376.2" y1="108.5" x2="376.2" y2="110.0" stroke="#555" stroke-width="0.6"/>
<line x1="386.5" y1="108.5" x2="386.5" y2="110.0" stroke="#555" stroke-width="0.6"/>
<line x1="396.8" y1="108.5" x2="396.8" y2="111.0" stroke="#555" stroke-width="0.6"/>
<line x1="407.1" y1="108.5" x2="407.1" y2="110.0" stroke="#555" stroke-width="0.6"/>
<line x1="417.4" y1="108.5" x2="417.4" y2="110.0" stroke="#555" stroke-width="0.6"/>
<line x1="427.6" y1="108.5" x2="427.6" y2="110.0" stroke="#555" stroke-width="0.6"/>
<line x1="437.9" y1="108.5" x2="437.9" y2="110.0" stroke="#555" stroke-width="0.6"/>
<line x1="448.2" y1="108.5" x2="448.2" y2="111.0" stroke="#555" stroke-width="0.6"/>
<line x1="291.5" y1="108.5" x2="294" y2="108.5" stroke="#555" stroke-width="0.5"/>
<line x1="292.7" y1="105.3" x2="294" y2="105.3" stroke="#555" stroke-width="0.5"/>
<line x1="292.7" y1="102.0" x2="294" y2="102.0" stroke="#555" stroke-width="0.5"/>
<line x1="292.7" y1="98.8" x2="294" y2="98.8" stroke="#555" stroke-width="0.5"/>
<line x1="292.7" y1="95.5" x2="294" y2="95.5" stroke="#555" stroke-width="0.5"/>
<line x1="292.7" y1="92.3" x2="294" y2="92.3" stroke="#555" stroke-width="0.5"/>
<line x1="292.7" y1="89.1" x2="294" y2="89.1" stroke="#555" stroke-width="0.5"/>
<line x1="292.7" y1="85.8" x2="294" y2="85.8" stroke="#555" stroke-width="0.5"/>
<line x1="292.7" y1="82.6" x2="294" y2="82.6" stroke="#555" stroke-width="0.5"/>
<line x1="292.7" y1="79.3" x2="294" y2="79.3" stroke="#555" stroke-width="0.5"/>
<line x1="291.5" y1="76.1" x2="294" y2="76.1" stroke="#555" stroke-width="0.5"/>
<line x1="292.7" y1="72.9" x2="294" y2="72.9" stroke="#555" stroke-width="0.5"/>
<line x1="292.7" y1="69.6" x2="294" y2="69.6" stroke="#555" stroke-width="0.5"/>
<line x1="292.7" y1="66.4" x2="294" y2="66.4" stroke="#555" stroke-width="0.5"/>
<line x1="292.7" y1="63.1" x2="294" y2="63.1" stroke="#555" stroke-width="0.5"/>
<line x1="292.7" y1="59.9" x2="294" y2="59.9" stroke="#555" stroke-width="0.5"/>
<line x1="292.7" y1="56.7" x2="294" y2="56.7" stroke="#555" stroke-width="0.5"/>
<line x1="292.7" y1="53.4" x2="294" y2="53.4" stroke="#555" stroke-width="0.5"/>
<line x1="292.7" y1="50.2" x2="294" y2="50.2" stroke="#555" stroke-width="0.5"/>
<line x1="292.7" y1="46.9" x2="294" y2="46.9" stroke="#555" stroke-width="0.5"/>
<line x1="291.5" y1="43.7" x2="294" y2="43.7" stroke="#555" stroke-width="0.5"/>
<line x1="292.7" y1="40.5" x2="294" y2="40.5" stroke="#555" stroke-width="0.5"/>
<line x1="292.7" y1="37.2" x2="294" y2="37.2" stroke="#555" stroke-width="0.5"/>
<line x1="292.7" y1="34.0" x2="294" y2="34.0" stroke="#555" stroke-width="0.5"/>
<line x1="292.7" y1="30.7" x2="294" y2="30.7" stroke="#555" stroke-width="0.5"/>
<line x1="292.7" y1="27.5" x2="294" y2="27.5" stroke="#555" stroke-width="0.5"/>
<line x1="292.7" y1="24.3" x2="294" y2="24.3" stroke="#555" stroke-width="0.5"/>
<line x1="292.7" y1="21.0" x2="294" y2="21.0" stroke="#555" stroke-width="0.5"/>
<line x1="292.7" y1="17.8" x2="294" y2="17.8" stroke="#555" stroke-width="0.5"/>
<line x1="292.7" y1="14.5" x2="294" y2="14.5" stroke="#555" stroke-width="0.5"/>
<line x1="291.5" y1="11.3" x2="294" y2="11.3" stroke="#555" stroke-width="0.5"/>
<path d="M294.5 103.4 L295.0 92.2 L295.5 79.0 L296.0 70.1 L296.5 62.7 L297.4 53.5 L297.9 54.6 L298.4 55.0 L298.9 56.9 L299.5 58.1 L300.0 59.3 L300.5 59.5 L301.0 60.4 L301.5 60.6 L302.0 61.5 L302.5 62.4 L303.0 62.5 L303.5 61.9 L304.0 61.9 L304.5 61.8 L305.0 61.6 L305.5 62.0 L306.0 63.3 L306.5 63.3 L307.0 63.7 L307.9 67.6 L308.3 67.8 L308.8 69.0 L309.2 69.3 L309.7 69.9 L310.2 71.6 L310.6 72.3 L311.1 71.7 L311.6 71.4 L312.0 69.2 L312.5 66.7 L313.0 66.9 L313.5 64.7 L314.0 62.6 L314.5 61.0 L315.0 58.7 L315.5 56.8 L316.0 53.9 L316.5 53.3 L317.0 51.3 L317.5 49.4 L318.1 50.5 L318.6 50.2 L319.2 49.5 L319.7 49.5 L320.2 46.2 L320.6 43.9 L321.1 39.8 L321.6 37.3 L322.2 34.7 L322.8 34.4 L323.4 32.9 L323.9 31.6 L324.5 31.5 L325.0 31.9 L325.6 28.8 L326.1 25.6 L326.7 22.3 L327.1 24.3 L327.6 26.9 L328.1 27.5 L328.5 30.9 L328.9 40.6 L329.3 30.9 L329.8 23.3 L330.3 18.4 L330.8 18.8 L331.2 19.4 L331.7 20.4 L332.1 21.7 L332.6 22.5 L333.0 22.9 L333.5 23.7 L333.9 25.4 L334.4 27.3 L334.8 27.6 L335.3 27.4 L335.8 29.4 L336.4 29.6 L336.9 30.3 L337.5 29.1 L338.0 30.7 L338.5 29.6 L338.9 31.2 L339.4 30.7 L339.8 30.9 L340.3 32.6 L340.7 31.3 L341.2 32.5 L341.7 33.6 L342.1 32.5 L342.6 32.8 L343.0 34.6 L343.5 33.9 L343.9 34.9 L344.4 33.7 L344.9 39.0 L345.3 43.2 L346.2 13.2 L346.6 14.2 L347.1 18.4 L347.6 18.6 L348.0 22.4 L348.5 28.6 L349.0 37.0 L349.5 38.4 L349.9 37.2 L350.4 37.5 L350.8 38.8 L351.3 38.4 L351.8 37.8 L352.2 40.2 L352.7 38.5 L353.1 38.5 L353.6 39.4 L354.0 40.2 L354.5 40.7 L354.9 40.5 L355.4 42.1 L355.9 42.6 L356.3 44.7 L356.8 43.9 L357.2 42.4 L357.7 41.2 L358.1 39.4 L358.6 38.2 L359.1 36.3 L359.5 34.3 L360.0 32.3 L360.4 32.4 L360.9 30.7 L361.4 29.3 L361.8 29.2 L362.3 27.6 L362.7 23.4 L363.2 21.8 L363.6 18.8 L364.1 16.5 L364.6 13.2 L365.0 12.4 L365.5 8.3 L365.9 6.5 L366.4 3.5 L366.9 2.4 L367.3 3.3 L367.8 2.1 L368.2 1.6 L368.7 1.3 L369.1 1.3 L369.6 0.9 L370.1 3.6 L370.7 4.7 L371.2 7.2 L371.8 8.6 L372.3 10.2 L372.8 11.6 L373.3 15.1 L373.8 17.8 L374.1 34.9 L375.0 15.8 L375.5 17.2 L375.9 18.1 L376.4 18.2 L376.9 19.6 L377.3 20.9 L377.8 20.8 L378.3 21.7 L378.7 23.3 L379.2 23.4 L379.6 25.6 L380.1 25.3 L380.6 25.8 L381.0 26.8 L381.5 27.7 L382.0 28.1 L382.6 29.1 L383.1 29.4 L383.7 29.4 L384.2 30.5 L384.7 30.2 L385.1 32.4 L385.6 33.1 L386.0 33.3 L386.5 33.3 L387.0 34.1 L387.4 34.9 L387.9 34.3 L388.3 35.8 L388.8 36.7 L389.2 36.1 L389.7 36.1 L390.2 37.8 L390.6 37.0 L391.1 37.5 L391.5 38.6 L391.9 38.1 L392.4 37.6 L392.9 39.3 L393.3 38.1 L393.8 37.7 L394.2 39.5 L394.7 38.6 L395.1 39.4 L395.6 40.9 L396.1 40.9 L396.5 39.9 L397.0 41.2 L397.4 41.4 L397.9 42.0 L398.4 42.0 L398.8 43.5 L399.3 43.0 L399.7 44.1 L400.2 44.9 L400.7 46.8 L401.1 45.5 L401.6 47.7 L402.0 47.1 L402.5 48.6 L403.0 48.4 L403.4 48.8 L403.9 49.8 L404.3 49.2 L404.8 48.9 L405.2 49.2 L405.7 49.3 L406.2 51.3 L406.6 51.1 L407.1 52.1 L407.5 51.7 L408.0 50.5 L408.4 52.2 L408.9 52.7 L409.4 52.8 L409.8 52.4 L410.3 52.3 L410.7 52.7 L411.2 53.6 L411.6 52.6 L412.1 53.3 L412.5 53.4 L413.0 54.6 L413.5 54.5 L413.9 54.9 L414.4 54.9 L414.8 53.8 L415.3 53.9 L415.7 54.6 L416.2 54.3 L416.7 55.1 L417.1 56.1 L417.6 57.1 L418.0 56.8 L418.5 57.8 L418.9 56.7 L419.4 57.7 L419.9 59.6 L420.3 58.1 L420.8 59.2 L421.2 58.9 L421.7 59.4 L422.2 62.3 L422.8 63.6 L423.3 63.9 L423.9 63.9 L424.4 65.4 L424.9 66.4 L425.3 68.6 L425.8 69.8 L426.3 70.5 L426.7 71.9 L427.2 72.2 L427.6 72.5 L428.1 72.7 L428.6 71.6 L429.0 69.5 L429.5 70.5 L429.9 71.0 L430.4 70.1 L430.8 71.6 L431.3 70.7 L431.8 71.3 L432.2 70.7 L432.7 72.1 L433.1 71.7 L433.6 71.3 L434.0 70.4 L434.5 71.2 L435.0 70.4 L435.4 71.7 L435.9 72.5 L436.3 71.0 L436.8 71.9 L437.2 71.9 L437.7 71.9 L438.1 72.7 L438.6 73.3 L439.1 72.9 L439.5 72.5 L440.0 73.7 L440.4 72.4 L440.9 73.4 L441.3 73.3 L441.8 73.7 L442.3 73.9 L442.7 72.5 L443.2 73.4 L443.6 72.9 L444.1 73.5 L444.5 74.1 L445.0 73.4 L445.5 72.0 L445.9 73.0 L446.4 73.6 L446.8 73.9 L447.3 73.4 L447.7 73.8 L448.2 73.1" fill="none" stroke="#b02c32" stroke-width="1.0" stroke-linejoin="round" opacity="1.0"/>
<path d="M294.5 102.8 L295.0 101.5 L295.5 99.3 L296.0 97.9 L296.5 96.1 L297.0 93.1 L297.5 91.8 L298.0 92.2 L298.6 89.8 L299.1 88.5 L299.6 88.8 L300.1 87.5 L300.5 88.0 L301.0 87.1 L301.5 87.2 L301.9 86.0 L302.4 86.7 L302.8 87.0 L303.3 86.0 L303.8 86.3 L304.2 86.0 L304.7 84.7 L305.1 85.9 L305.6 85.4 L306.1 84.7 L306.5 84.0 L307.0 85.5 L307.4 84.5 L307.9 84.9 L308.3 85.0 L308.8 84.5 L309.3 84.4 L309.8 82.8 L310.3 83.1 L310.9 81.9 L311.4 82.3 L311.9 81.7 L312.4 79.6 L312.9 80.2 L313.4 80.9 L314.0 82.9 L314.5 82.4 L315.0 83.3 L315.5 83.1 L316.0 84.0 L316.4 84.3 L316.9 84.7 L317.4 85.7 L317.9 86.2 L318.4 86.6 L318.9 85.9 L319.4 86.1 L320.0 85.7 L320.5 85.7 L321.0 84.8 L321.5 84.1 L321.9 85.7 L322.4 86.2 L322.9 86.3 L323.3 85.9 L323.8 86.5 L324.3 85.7 L324.7 87.2 L325.2 86.9 L325.7 86.7 L326.1 86.7 L326.6 88.6 L327.0 89.3 L327.5 87.8 L328.0 89.6 L328.4 89.2 L328.9 89.1 L329.3 89.7 L329.8 91.0 L330.3 91.4 L330.8 89.8 L331.3 91.1 L331.9 90.1 L332.4 91.6 L332.9 90.9 L333.4 92.2 L333.9 92.0 L334.3 90.7 L334.8 91.3 L335.2 89.6 L335.7 88.8 L336.2 89.4 L336.6 87.9 L337.1 87.9 L337.5 88.0 L338.0 88.0 L338.5 86.8 L338.9 86.2 L339.4 87.5 L339.8 86.0 L340.3 86.9 L340.7 86.5 L341.2 85.1 L341.6 84.9 L342.1 84.6 L342.6 84.5 L343.0 84.1 L343.5 83.7 L343.9 83.4 L344.4 83.7 L344.8 82.5 L345.3 82.0 L345.7 82.2 L346.2 80.9 L346.7 81.3 L347.1 82.9 L347.6 82.3 L348.0 82.6 L348.5 81.8 L349.0 82.9 L349.4 83.4 L349.9 82.6 L350.3 84.1 L350.8 84.4 L351.3 83.4 L351.7 84.8 L352.2 84.7 L352.6 85.4 L353.1 84.9 L353.6 85.9 L354.0 86.2 L354.5 84.9 L354.9 85.2 L355.4 86.7 L355.8 87.5 L356.3 86.3 L356.8 87.1 L357.2 87.8 L357.7 87.6 L358.1 88.1 L358.6 88.3 L359.1 88.8 L359.5 89.7 L360.0 89.5 L360.4 90.0 L360.9 91.2 L361.3 90.1 L361.8 91.5 L362.3 91.4 L362.8 90.0 L363.3 89.3 L363.9 90.0 L364.4 88.3 L364.9 87.7 L365.4 87.7 L365.9 88.2 L366.3 87.0 L366.8 87.4 L367.3 87.5 L367.8 88.5 L368.2 87.7 L368.7 88.5 L369.2 87.3 L369.6 87.8 L370.1 88.6 L370.5 89.2 L371.0 88.5 L371.4 88.3 L371.9 88.2 L372.4 89.2 L372.8 88.7 L373.3 90.1 L373.7 90.3 L374.2 89.2 L374.6 89.6 L375.1 90.8 L375.5 90.6 L376.0 91.1 L376.5 90.4 L376.9 90.1 L377.4 90.6 L377.8 91.8 L378.3 90.9 L378.7 91.2 L379.2 91.5 L379.6 91.7 L380.1 91.8 L380.6 93.0 L381.0 91.7 L381.5 91.5 L381.9 93.6 L382.4 93.6 L382.8 94.0 L383.3 93.1 L383.8 94.5 L384.3 94.9 L384.8 93.8 L385.4 95.3 L385.9 95.9 L386.4 95.9 L386.9 96.0 L387.4 95.7 L387.8 95.9 L388.3 95.7 L388.7 95.5 L389.2 96.6 L389.6 96.1 L390.1 97.3 L390.5 95.8 L391.0 97.6 L391.4 97.3 L391.9 97.8 L392.4 97.9 L392.8 98.0 L393.3 97.4 L393.7 96.4 L394.2 97.9 L394.6 96.9 L395.1 97.2 L395.5 98.0 L396.0 97.8 L396.5 97.6 L396.9 98.6 L397.4 97.9 L397.9 97.3 L398.3 97.0 L398.8 98.2 L399.2 97.4 L399.7 97.9 L400.2 97.0 L400.6 96.6 L401.1 97.3 L401.5 97.8 L402.0 96.4 L402.5 97.6 L402.9 97.8 L403.4 97.5 L403.9 97.7 L404.3 96.3 L404.8 97.7 L405.2 98.4 L405.7 97.0 L406.1 97.6 L406.6 97.8 L407.1 98.5 L407.5 98.5 L408.0 98.8 L408.4 99.6 L408.9 98.2 L409.3 98.5 L409.8 98.9 L410.3 98.8 L410.7 98.7 L411.2 100.5 L411.6 100.3 L412.1 98.8 L412.5 99.6 L413.0 99.2 L413.4 99.2 L413.9 99.3 L414.4 99.9 L414.8 99.8 L415.3 99.3 L415.7 99.0 L416.2 99.3 L416.6 98.8 L417.1 99.7 L417.5 100.0 L418.0 99.4 L418.5 98.7 L418.9 98.8 L419.4 99.2 L419.8 99.6 L420.3 99.8 L420.7 99.0 L421.2 99.8 L421.7 99.3 L422.1 98.9 L422.6 98.7 L423.0 98.9 L423.5 99.2 L423.9 98.6 L424.4 98.7" fill="none" stroke="#3f5f9f" stroke-width="1.0" stroke-linejoin="round" opacity="1.0"/>
<line x1="295.7" y1="159.5" x2="295.7" y2="266.4" stroke="#aaa" stroke-width="0.8"/>
<line x1="295.7" y1="266.4" x2="447.3" y2="266.4" stroke="#aaa" stroke-width="0.8"/>
<line x1="447.3" y1="158.6" x2="447.3" y2="266.4" stroke="#aaa" stroke-width="0.8"/>
<line x1="295.7" y1="266.4" x2="295.7" y2="268.4" stroke="#888" stroke-width="0.6"/>
<line x1="346.2" y1="266.4" x2="346.2" y2="268.4" stroke="#888" stroke-width="0.6"/>
<line x1="396.5" y1="266.4" x2="396.5" y2="268.4" stroke="#888" stroke-width="0.6"/>
<line x1="447.3" y1="266.4" x2="447.3" y2="268.4" stroke="#888" stroke-width="0.6"/>
<line x1="447.3" y1="159.5" x2="449.3" y2="159.5" stroke="#888" stroke-width="0.6"/>
<line x1="447.3" y1="213.0" x2="449.3" y2="213.0" stroke="#888" stroke-width="0.6"/>
<line x1="447.3" y1="266.4" x2="449.3" y2="266.4" stroke="#888" stroke-width="0.6"/>
<line x1="293.7" y1="203.5" x2="295.7" y2="203.5" stroke="#888" stroke-width="0.6"/>
<path d="M295.7 261.8 L296.3 256.3 L297.0 252.1 L297.6 246.3 L298.2 242.8 L298.9 240.7 L299.5 239.1 L300.2 236.2 L300.8 233.5 L301.5 229.4 L302.1 230.0 L302.8 228.9 L303.4 228.2 L304.0 227.7 L304.7 227.7 L305.3 229.5 L305.9 228.7 L306.6 228.2 L307.2 227.7 L307.8 225.4 L308.5 225.3 L309.1 225.8 L309.7 225.3 L310.3 224.8 L310.9 224.0 L311.5 220.8 L312.1 221.5 L312.7 220.9 L313.3 219.6 L313.9 217.7 L314.5 219.6 L315.0 219.4 L315.6 222.9 L316.1 223.6 L316.7 223.6 L317.3 224.0 L318.0 227.0 L318.6 227.1 L319.2 229.1 L319.9 230.1 L320.5 230.2 L321.1 229.9 L321.7 230.5 L322.3 230.0 L322.9 229.2 L323.5 229.6 L324.1 231.1 L324.7 228.8 L325.3 228.8 L325.9 231.3 L326.5 231.1 L327.0 232.6 L327.6 233.2 L328.2 233.5 L328.8 236.3 L329.3 234.6 L329.9 236.0 L330.4 236.1 L331.0 238.2 L331.6 237.1 L332.2 237.4 L332.7 238.5 L333.3 237.3 L333.9 238.0 L334.5 238.3 L335.0 235.1 L335.6 234.2 L336.2 233.9 L336.8 234.8 L337.3 233.6 L337.9 231.7 L338.5 231.2 L339.0 230.0 L339.6 230.1 L340.2 228.0 L340.7 229.2 L341.3 229.0 L341.8 228.4 L342.4 226.9 L343.0 226.8 L343.5 223.2 L344.1 223.2 L344.6 224.4 L345.2 223.0 L345.7 221.1 L346.3 221.9 L346.9 221.7 L347.5 223.0 L348.1 222.1 L348.7 222.5 L349.3 224.0 L349.9 223.8 L350.5 225.2 L351.1 227.7 L351.7 226.4 L352.2 226.0 L352.8 226.7 L353.4 227.6 L354.0 230.1 L354.5 229.4 L355.1 229.7 L355.7 229.7 L356.2 233.0 L356.8 231.9 L357.4 232.0 L357.9 232.3 L358.5 233.0 L359.1 234.1 L359.6 236.4 L360.2 235.6 L360.8 236.0 L361.4 238.2 L361.9 238.2 L362.5 241.2 L363.1 237.5 L363.6 237.6 L364.2 237.3 L364.7 235.1 L365.3 235.7 L365.8 233.1 L366.4 231.3 L367.0 232.0 L367.5 231.1 L368.1 232.4 L368.7 232.1 L369.2 234.2 L369.8 234.2 L370.4 233.4 L371.0 232.2 L371.5 233.1 L372.1 233.2 L372.7 233.6 L373.3 234.1 L373.9 236.5 L374.5 234.8 L375.1 235.0 L375.7 238.1 L376.3 237.3 L376.9 238.9 L377.4 237.4 L378.0 239.2 L378.6 238.7 L379.2 239.4 L379.8 239.6 L380.3 239.1 L380.9 238.2 L381.5 238.8 L382.1 241.5 L382.6 242.2 L383.2 243.0 L383.8 241.9 L384.4 243.5 L384.9 244.6 L385.5 244.8 L386.1 246.0 L386.6 245.8 L387.2 246.9 L387.8 247.2 L388.4 246.1 L389.0 248.3 L389.5 248.6 L390.1 246.2 L390.7 249.1 L391.3 249.3 L391.9 248.6 L392.5 247.0 L393.0 249.8 L393.6 247.7 L394.2 250.4 L394.8 249.7 L395.4 247.8 L396.0 248.1 L396.6 249.4 L397.1 249.1 L397.7 249.6 L398.3 250.1 L398.9 247.9 L399.5 247.2 L400.1 249.8 L400.6 247.0 L401.2 249.6 L401.8 247.2 L402.4 249.2 L403.0 249.6 L403.6 250.4 L404.1 249.9 L404.7 251.3 L405.3 249.8 L405.9 251.6 L406.5 251.1 L407.0 253.2 L407.6 253.4 L408.2 252.9 L408.8 253.0 L409.4 251.4 L410.0 251.4 L410.5 253.0 L411.1 252.6 L411.7 253.7 L412.3 252.8 L412.9 251.4 L413.5 252.0 L414.0 253.1 L414.6 252.3 L415.2 250.7 L415.8 253.1 L416.4 252.9 L417.0 250.6 L417.6 251.8 L418.1 251.2 L418.7 252.2 L419.3 250.7 L419.9 250.3 L420.5 250.9 L421.1 252.2 L421.6 249.4 L422.2 249.3 L422.8 250.7 L423.4 250.2" fill="none" stroke="#3cdc38" stroke-width="2.6" stroke-linejoin="round" opacity="1.0"/>
<path d="M295.7 266.5 L296.2 266.4 L296.7 266.4 L297.2 266.3 L297.8 266.1 L298.3 266.1 L298.8 265.3 L299.3 265.5 L299.8 265.7 L300.3 265.4 L300.8 265.4 L301.3 264.7 L301.9 264.9 L302.4 264.6 L302.9 264.7 L303.4 264.6 L303.9 263.8 L304.4 263.6 L305.0 263.3 L305.5 263.4 L306.0 263.0 L306.5 262.2 L307.0 262.3 L307.5 261.5 L308.1 261.5 L308.6 260.8 L309.1 260.4 L309.6 260.2 L310.2 259.0 L310.7 258.3 L311.2 258.1 L311.8 257.2 L312.3 256.1 L312.8 255.8 L313.4 254.8 L313.9 254.1 L314.4 253.5 L315.0 253.8 L315.5 253.3 L316.1 253.2 L316.6 252.9 L317.2 252.2 L317.7 252.0 L318.2 251.4 L318.7 251.0 L319.3 250.5 L319.8 250.2 L320.3 250.0 L320.8 249.1 L321.3 249.2 L321.8 248.5 L322.4 248.0 L322.9 248.0 L323.4 247.3 L323.9 246.5 L324.4 245.9 L325.0 245.4 L325.5 244.2 L326.0 244.2 L326.5 242.8 L327.0 242.6 L327.5 242.0 L328.1 240.7 L328.6 240.6 L329.1 239.6 L329.6 238.9 L330.1 237.6 L330.6 236.7 L331.2 235.9 L331.7 235.6 L332.2 234.2 L332.7 233.7 L333.2 232.9 L333.7 232.0 L334.3 230.7 L334.8 229.9 L335.3 229.1 L335.8 228.4 L336.3 226.9 L336.8 226.3 L337.4 225.3 L337.9 224.3 L338.4 222.7 L338.9 222.3 L339.4 220.7 L339.9 219.8 L340.5 219.0 L341.0 218.1 L341.5 216.7 L342.0 215.9 L342.6 214.4 L343.1 213.0 L343.6 211.8 L344.1 210.5 L344.7 209.2 L345.2 208.0 L345.7 207.2 L346.2 206.2 L346.8 204.4 L347.3 203.1 L347.8 202.4 L348.3 200.7 L348.9 199.2 L349.4 197.7 L349.9 196.6 L350.4 195.3 L350.9 193.7 L351.4 192.3 L352.0 190.7 L352.5 189.9 L353.0 187.9 L353.6 187.0 L354.1 186.1 L354.7 184.5 L355.2 183.7 L355.8 182.7 L356.4 181.0 L357.0 179.6 L357.5 177.6 L358.1 176.3 L358.7 174.6 L359.3 176.2 L359.9 176.9 L360.4 178.2 L361.0 179.7 L361.6 180.7 L362.2 184.0 L362.9 186.8 L363.5 190.0 L364.1 193.1 L364.8 195.8 L365.4 198.6 L365.9 198.2 L366.5 197.6 L367.0 197.3 L367.5 197.3 L368.1 196.9 L368.6 196.2 L369.1 195.7 L369.7 195.1 L370.2 194.5 L370.7 193.4 L371.3 192.6 L371.8 191.4 L372.4 189.8 L372.9 188.9 L373.5 187.7 L374.0 186.4 L374.5 185.5 L375.0 184.6 L375.5 183.3 L376.1 182.6 L376.6 181.4 L377.1 180.5 L377.6 179.8 L378.2 179.0 L378.7 178.1 L379.3 177.9 L379.8 177.0 L380.4 176.2 L380.9 175.1 L381.5 174.8 L382.1 173.9 L382.6 173.4 L383.2 172.5 L383.7 172.0 L384.3 171.1 L384.9 173.1 L385.6 174.7 L386.2 176.8 L386.8 176.1 L387.4 175.4 L387.9 174.3 L388.5 173.9 L389.1 173.2 L389.7 173.5 L390.2 174.2 L390.8 174.7 L391.4 174.8 L391.9 175.3 L392.5 175.6 L393.2 181.7 L393.9 187.5 L394.5 187.6 L395.0 188.1 L395.6 188.5 L396.1 188.9 L396.7 188.9 L397.2 190.5 L397.8 191.6 L398.3 192.9 L398.9 194.0 L399.4 195.3 L400.0 196.7 L400.5 197.8 L401.0 198.5 L401.6 198.6 L402.1 199.4 L402.6 200.2 L403.2 201.0 L403.7 201.3 L404.2 202.3 L404.8 202.9 L405.3 203.1 L405.9 204.0 L406.5 204.4 L407.0 204.8 L407.6 205.5 L408.2 206.2 L409.1 212.8 L409.6 208.0 L410.1 203.1 L410.6 203.6 L411.1 203.8 L411.7 204.3 L412.2 204.5 L412.7 204.5 L413.2 205.3 L413.7 204.9 L414.2 205.4 L414.8 205.6 L415.3 206.0 L415.8 206.0 L416.3 206.8 L416.9 206.8 L417.4 206.8 L418.0 207.5 L418.5 207.4 L419.1 208.0 L419.6 208.1 L420.1 208.3 L420.7 208.7 L421.2 208.7 L421.8 208.5 L422.3 208.8 L422.9 208.8 L423.4 208.8" fill="none" stroke="#b81414" stroke-width="1.8" stroke-linejoin="round" opacity="1.0"/>
<g clip-path="url(#cd1)">
<rect x="238" y="315.5" width="134" height="100" fill="#5e5e5e"/>
<path d="M236 316 L243 316 L237 416 L236 416 Z" fill="#8a8a8a" opacity="0.9" filter="url(#bl1)"/>
<path d="M243 316 L251 316 L244 416 L236 416 Z" fill="#b6b6b6" opacity="0.9" filter="url(#bl1)"/>
<path d="M251 316 L263 316 L254 416 L244 416 Z" fill="#474747" opacity="0.85" filter="url(#bl1)"/>
<path d="M263 316 L271 316 L260 416 L254 416 Z" fill="#aeaeae" opacity="0.85" filter="url(#bl1)"/>
<path d="M271 340 L276 360 L268 416 L260 416 Z" fill="#6e6e6e" opacity="0.8" filter="url(#bl1)"/>
<path d="M276 372 L284 395 L300 416 L268 416 Z" fill="#a0a0a0" opacity="0.9" filter="url(#bl1)"/>
<path d="M335 315 L356 315 L373 350 L373 410 Z" fill="#8a8a8a" opacity="0.9" filter="url(#bl1)"/>
<path d="M327 315 L336 315 L326 416 L316 416 Z" fill="#3c3c3c" opacity="0.6" filter="url(#bl1)"/>
<circle cx="342" cy="353.3" r="1.3" fill="#111"/>
<line x1="266" y1="316" x2="282" y2="416" stroke="#ddd" stroke-width="0.8" opacity="0.35"/>
<line x1="270" y1="316" x2="287" y2="416" stroke="#333" stroke-width="0.8" opacity="0.35"/>
<line x1="274" y1="316" x2="292" y2="416" stroke="#ddd" stroke-width="0.8" opacity="0.35"/>
<line x1="278" y1="316" x2="297" y2="416" stroke="#333" stroke-width="0.8" opacity="0.35"/>
<line x1="282" y1="316" x2="302" y2="416" stroke="#ddd" stroke-width="0.8" opacity="0.35"/>
<line x1="338" y1="315" x2="372" y2="415" stroke="#bbb" stroke-width="1" opacity="0.3"/>
<line x1="342" y1="315" x2="376" y2="415" stroke="#444" stroke-width="1" opacity="0.3"/>
<line x1="346" y1="315" x2="380" y2="415" stroke="#bbb" stroke-width="1" opacity="0.3"/>
<line x1="350" y1="315" x2="384" y2="415" stroke="#444" stroke-width="1" opacity="0.3"/>
<line x1="354" y1="315" x2="388" y2="415" stroke="#bbb" stroke-width="1" opacity="0.3"/>
<line x1="358" y1="315" x2="392" y2="415" stroke="#444" stroke-width="1" opacity="0.3"/>
<rect x="238" y="315.5" width="134" height="1.5" fill="#333" opacity="0.6"/>
<rect x="238" y="315.5" width="134" height="100" fill="#000" filter="url(#nw)" opacity="0.3"/>
<rect x="238" y="315.5" width="134" height="100" fill="#000" filter="url(#nb)" opacity="0.3"/>
<path d="M285.8 364.2 C295 364 305 370 311 378 C317 386 320.5 396 320 403 C319.5 409 314 410.5 308 408.5 C300 404 293 396 290 387 C288 380 286 372 285.8 364.2 Z" fill="#ff1800" filter="url(#bl05)"/>
<path d="M276 364 C281 363 285 364 287 366 C288 376 290 384 293 390 C297 398 303 404 308 409 L305.5 411.5 C297 406 289 398 283 389 C278 381 274 372 276 364 Z" fill="#1ec81e" filter="url(#bl05)"/>
<ellipse cx="290.5" cy="390" rx="2.5" ry="4" fill="#e8d820" opacity="0.85" filter="url(#bl1)"/>
<line x1="262" y1="316" x2="280" y2="362" stroke="#d0d0d0" stroke-width="1.3" opacity="0.45" filter="url(#bl05)"/>
<line x1="268" y1="316" x2="284" y2="356" stroke="#3a3a3a" stroke-width="1.3" opacity="0.45" filter="url(#bl05)"/>
<line x1="273" y1="316" x2="288" y2="352" stroke="#c8c8c8" stroke-width="1.3" opacity="0.45" filter="url(#bl05)"/>
<line x1="258" y1="330" x2="276" y2="380" stroke="#bbb" stroke-width="1.3" opacity="0.45" filter="url(#bl05)"/>
<rect x="270" y="360" width="55" height="55" fill="#000" filter="url(#nb)" opacity="0.15"/>
</g>
<g clip-path="url(#cd2)">
<rect x="386" y="316" width="133" height="99.4" fill="#6c6c6c"/>
<path d="M385 316 L387 316 L389.5 416 L387.5 416 Z" fill="#b0b0b0" opacity="0.85" filter="url(#bl1)"/>
<path d="M387 316 L390.5 316 L393.0 416 L389.5 416 Z" fill="#505050" opacity="0.85" filter="url(#bl1)"/>
<path d="M390.5 316 L394.7 316 L397.2 416 L393.0 416 Z" fill="#a0a0a0" opacity="0.85" filter="url(#bl1)"/>
<path d="M394.7 316 L399.7 316 L402.2 416 L397.2 416 Z" fill="#bcbcbc" opacity="0.85" filter="url(#bl1)"/>
<path d="M399.7 316 L403.9 316 L406.4 416 L402.2 416 Z" fill="#5a5a5a" opacity="0.85" filter="url(#bl1)"/>
<path d="M403.9 316 L409.7 316 L412.2 416 L406.4 416 Z" fill="#b0b0b0" opacity="0.85" filter="url(#bl1)"/>
<path d="M409.7 316 L415.6 316 L418.1 416 L412.2 416 Z" fill="#909090" opacity="0.85" filter="url(#bl1)"/>
<path d="M415.6 316 L419.8 316 L422.3 416 L418.1 416 Z" fill="#4e4e4e" opacity="0.85" filter="url(#bl1)"/>
<path d="M419.8 316 L426.4 316 L428.9 416 L422.3 416 Z" fill="#acacac" opacity="0.85" filter="url(#bl1)"/>
<path d="M426.4 316 L430.6 316 L433.1 416 L428.9 416 Z" fill="#626262" opacity="0.85" filter="url(#bl1)"/>
<path d="M477 316 L482 316 L484.5 416 L479.5 416 Z" fill="#505050" opacity="0.85" filter="url(#bl1)"/>
<path d="M482 316 L489 316 L491.5 416 L484.5 416 Z" fill="#a8a8a8" opacity="0.85" filter="url(#bl1)"/>
<path d="M489 316 L494 316 L496.5 416 L491.5 416 Z" fill="#606060" opacity="0.85" filter="url(#bl1)"/>
<path d="M494 316 L502.5 316 L505.0 416 L496.5 416 Z" fill="#b0b0b0" opacity="0.85" filter="url(#bl1)"/>
<path d="M502.5 316 L507.5 316 L510.0 416 L505.0 416 Z" fill="#555" opacity="0.85" filter="url(#bl1)"/>
<path d="M507.5 316 L515.8 316 L518.3 416 L510.0 416 Z" fill="#b0b0b0" opacity="0.85" filter="url(#bl1)"/>
<path d="M515.8 316 L518 316 L520.5 416 L518.3 416 Z" fill="#4a4a4a" opacity="0.85" filter="url(#bl1)"/>
<path d="M430 316 C436 350 446 385 462 416" stroke="#aaa" stroke-width="1.5" fill="none" opacity="0.6"/>
<path d="M436 345 C444 360 456 385 470 415 L461 415 C452 398 442 380 436 362 Z" fill="#1c8a1c" opacity="0.6" filter="url(#bl2)"/>
<ellipse cx="443" cy="367" rx="7.5" ry="25" transform="rotate(-17 443 367)" fill="#1fae1f" opacity="0.9" filter="url(#bl2)"/>
<ellipse cx="443.5" cy="372" rx="5" ry="14" transform="rotate(-20 443.5 372)" fill="#2ade2a" filter="url(#bl1)"/>
<ellipse cx="444" cy="377" rx="3" ry="6" transform="rotate(-25 444 377)" fill="#44f044" filter="url(#bl1)"/>
<rect x="386" y="316" width="133" height="1.5" fill="#333" opacity="0.6"/>
<circle cx="489.3" cy="353.9" r="1.2" fill="#111"/>
<rect x="386" y="316" width="133" height="99.4" fill="#000" filter="url(#nw)" opacity="0.3"/>
<rect x="386" y="316" width="133" height="99.4" fill="#000" filter="url(#nb)" opacity="0.3"/>
</g>
<line x1="182" y1="443" x2="182" y2="604.3" stroke="#555" stroke-width="0.7"/>
<line x1="182" y1="604.3" x2="413.7" y2="604.3" stroke="#555" stroke-width="0.7"/>
<line x1="182.0" y1="604.3" x2="182.0" y2="607.3" stroke="#444" stroke-width="0.6"/>
<line x1="196.5" y1="604.3" x2="196.5" y2="605.9" stroke="#444" stroke-width="0.6"/>
<line x1="210.9" y1="604.3" x2="210.9" y2="605.9" stroke="#444" stroke-width="0.6"/>
<line x1="225.4" y1="604.3" x2="225.4" y2="605.9" stroke="#444" stroke-width="0.6"/>
<line x1="239.9" y1="604.3" x2="239.9" y2="605.9" stroke="#444" stroke-width="0.6"/>
<line x1="254.4" y1="604.3" x2="254.4" y2="607.3" stroke="#444" stroke-width="0.6"/>
<line x1="268.8" y1="604.3" x2="268.8" y2="605.9" stroke="#444" stroke-width="0.6"/>
<line x1="283.3" y1="604.3" x2="283.3" y2="605.9" stroke="#444" stroke-width="0.6"/>
<line x1="297.8" y1="604.3" x2="297.8" y2="605.9" stroke="#444" stroke-width="0.6"/>
<line x1="312.2" y1="604.3" x2="312.2" y2="605.9" stroke="#444" stroke-width="0.6"/>
<line x1="326.7" y1="604.3" x2="326.7" y2="607.3" stroke="#444" stroke-width="0.6"/>
<line x1="341.2" y1="604.3" x2="341.2" y2="605.9" stroke="#444" stroke-width="0.6"/>
<line x1="355.6" y1="604.3" x2="355.6" y2="605.9" stroke="#444" stroke-width="0.6"/>
<line x1="370.1" y1="604.3" x2="370.1" y2="605.9" stroke="#444" stroke-width="0.6"/>
<line x1="384.6" y1="604.3" x2="384.6" y2="605.9" stroke="#444" stroke-width="0.6"/>
<line x1="399.1" y1="604.3" x2="399.1" y2="607.3" stroke="#444" stroke-width="0.6"/>
<line x1="413.5" y1="604.3" x2="413.5" y2="605.9" stroke="#444" stroke-width="0.6"/>
<line x1="179.0" y1="604.3" x2="182" y2="604.3" stroke="#444" stroke-width="0.5"/>
<line x1="180.5" y1="599.5" x2="182" y2="599.5" stroke="#444" stroke-width="0.5"/>
<line x1="180.5" y1="594.8" x2="182" y2="594.8" stroke="#444" stroke-width="0.5"/>
<line x1="180.5" y1="590.0" x2="182" y2="590.0" stroke="#444" stroke-width="0.5"/>
<line x1="180.5" y1="585.3" x2="182" y2="585.3" stroke="#444" stroke-width="0.5"/>
<line x1="180.5" y1="580.5" x2="182" y2="580.5" stroke="#444" stroke-width="0.5"/>
<line x1="180.5" y1="575.8" x2="182" y2="575.8" stroke="#444" stroke-width="0.5"/>
<line x1="180.5" y1="571.0" x2="182" y2="571.0" stroke="#444" stroke-width="0.5"/>
<line x1="180.5" y1="566.3" x2="182" y2="566.3" stroke="#444" stroke-width="0.5"/>
<line x1="180.5" y1="561.5" x2="182" y2="561.5" stroke="#444" stroke-width="0.5"/>
<line x1="179.0" y1="556.8" x2="182" y2="556.8" stroke="#444" stroke-width="0.5"/>
<line x1="180.5" y1="552.0" x2="182" y2="552.0" stroke="#444" stroke-width="0.5"/>
<line x1="180.5" y1="547.3" x2="182" y2="547.3" stroke="#444" stroke-width="0.5"/>
<line x1="180.5" y1="542.5" x2="182" y2="542.5" stroke="#444" stroke-width="0.5"/>
<line x1="180.5" y1="537.8" x2="182" y2="537.8" stroke="#444" stroke-width="0.5"/>
<line x1="180.5" y1="533.0" x2="182" y2="533.0" stroke="#444" stroke-width="0.5"/>
<line x1="180.5" y1="528.3" x2="182" y2="528.3" stroke="#444" stroke-width="0.5"/>
<line x1="180.5" y1="523.5" x2="182" y2="523.5" stroke="#444" stroke-width="0.5"/>
<line x1="180.5" y1="518.8" x2="182" y2="518.8" stroke="#444" stroke-width="0.5"/>
<line x1="180.5" y1="514.0" x2="182" y2="514.0" stroke="#444" stroke-width="0.5"/>
<line x1="179.0" y1="509.3" x2="182" y2="509.3" stroke="#444" stroke-width="0.5"/>
<line x1="180.5" y1="504.5" x2="182" y2="504.5" stroke="#444" stroke-width="0.5"/>
<line x1="180.5" y1="499.8" x2="182" y2="499.8" stroke="#444" stroke-width="0.5"/>
<line x1="180.5" y1="495.0" x2="182" y2="495.0" stroke="#444" stroke-width="0.5"/>
<line x1="180.5" y1="490.3" x2="182" y2="490.3" stroke="#444" stroke-width="0.5"/>
<line x1="180.5" y1="485.5" x2="182" y2="485.5" stroke="#444" stroke-width="0.5"/>
<line x1="180.5" y1="480.8" x2="182" y2="480.8" stroke="#444" stroke-width="0.5"/>
<line x1="180.5" y1="476.0" x2="182" y2="476.0" stroke="#444" stroke-width="0.5"/>
<line x1="180.5" y1="471.3" x2="182" y2="471.3" stroke="#444" stroke-width="0.5"/>
<line x1="180.5" y1="466.5" x2="182" y2="466.5" stroke="#444" stroke-width="0.5"/>
<line x1="179.0" y1="461.8" x2="182" y2="461.8" stroke="#444" stroke-width="0.5"/>
<line x1="180.5" y1="457.0" x2="182" y2="457.0" stroke="#444" stroke-width="0.5"/>
<line x1="180.5" y1="452.3" x2="182" y2="452.3" stroke="#444" stroke-width="0.5"/>
<line x1="180.5" y1="447.5" x2="182" y2="447.5" stroke="#444" stroke-width="0.5"/>
<path d="M182.0 602.6 L182.5 599.3 L183.1 595.3 L183.6 591.4 L184.2 587.6 L184.7 585.5 L185.2 583.6 L185.6 582.6 L186.1 580.3 L186.6 579.5 L187.0 576.9 L187.5 576.4 L187.9 574.7 L188.4 572.5 L188.9 572.6 L189.3 572.7 L189.8 571.5 L190.3 572.0 L190.8 572.3 L191.2 571.0 L191.7 571.9 L192.2 571.6 L192.6 571.8 L193.1 570.6 L193.6 570.1 L194.0 571.4 L194.5 571.3 L195.0 570.4 L195.4 569.6 L195.9 569.7 L196.4 570.5 L196.8 569.7 L197.3 570.9 L197.8 570.1 L198.2 569.2 L198.7 570.0 L199.1 569.3 L199.6 570.3 L200.1 570.1 L200.5 569.2 L201.0 569.4 L201.4 569.3 L201.9 569.4 L202.3 569.7 L202.8 567.7 L203.3 567.9 L203.7 567.9 L204.2 566.8 L204.7 566.9 L205.1 565.4 L205.6 566.6 L206.1 565.4 L206.5 564.1 L207.0 564.7 L207.5 564.3 L207.9 564.4 L208.4 565.3 L208.9 564.9 L209.3 565.4 L209.8 567.0 L210.3 567.0 L210.7 565.9 L211.2 567.8 L211.7 566.6 L212.1 567.5 L212.6 569.0 L213.0 568.8 L213.5 568.5 L213.9 569.0 L214.4 569.4 L214.9 569.2 L215.3 571.3 L215.8 569.7 L216.2 570.8 L216.7 571.8 L217.2 571.2 L217.6 572.4 L218.1 571.1 L218.6 572.6 L219.0 572.6 L219.5 572.2 L220.0 572.7 L220.4 571.9 L220.9 572.8 L221.4 572.8 L221.8 572.4 L222.3 572.4 L222.8 572.9 L223.2 572.4 L223.7 571.9 L224.2 573.5 L224.6 572.9 L225.1 573.6 L225.6 574.5 L226.0 573.6 L226.5 573.6 L227.0 574.1 L227.4 575.4 L227.9 575.2 L228.4 575.9 L229.0 577.1 L229.5 578.9 L230.1 578.4 L230.6 579.5 L231.1 580.3 L231.5 579.6 L232.0 578.8 L232.5 579.0 L232.9 578.9 L233.4 578.1 L233.9 578.4 L234.3 578.1 L234.8 578.9 L235.3 577.6 L235.7 577.9 L236.2 578.2 L236.7 577.7 L237.1 576.3 L237.6 576.4 L238.1 575.5 L238.5 575.3 L239.0 575.1 L239.5 575.4 L239.9 575.3 L240.4 573.7 L240.9 572.7 L241.3 573.3 L241.8 572.1 L242.2 571.7 L242.7 572.8 L243.2 571.1 L243.6 572.0 L244.1 570.9 L244.5 571.7 L245.0 571.1 L245.5 569.2 L245.9 569.1 L246.4 570.2 L246.8 569.2 L247.3 568.4 L247.8 568.9 L248.2 568.7 L248.7 567.7 L249.2 567.4 L249.6 566.4 L250.1 566.6 L250.6 565.9 L251.0 566.6 L251.5 566.3 L252.0 565.1 L252.4 565.8 L252.9 564.4 L253.4 564.2 L253.8 565.0 L254.3 564.3 L254.8 565.7 L255.2 565.6 L255.7 566.2 L256.2 565.5 L256.6 567.4 L257.1 566.4 L257.6 567.9 L258.0 569.0 L258.5 569.4 L259.0 569.7 L259.6 569.2 L260.1 570.0 L260.6 570.6 L261.1 569.4 L261.5 571.1 L262.0 571.1 L262.4 570.3 L262.9 571.1 L263.4 570.5 L263.8 570.3 L264.3 571.3 L264.7 570.1 L265.2 571.7 L265.6 572.1 L266.1 570.9 L266.6 572.5 L267.0 571.2 L267.5 573.1 L268.0 572.3 L268.4 574.0 L268.9 573.3 L269.4 574.6 L269.8 573.2 L270.3 573.6 L270.8 575.4 L271.2 575.4 L271.7 575.6 L272.2 574.8 L272.6 575.3 L273.1 575.9 L273.6 575.5 L274.0 577.7 L274.5 577.4 L275.0 578.0 L275.4 577.8 L275.9 577.3 L276.4 577.0 L276.8 578.5 L277.3 577.5 L277.8 577.8 L278.2 577.0 L278.7 576.4 L279.1 575.0 L279.6 574.3 L280.0 574.6 L280.5 573.0 L280.9 573.4 L281.4 572.0 L281.9 572.4 L282.3 572.2 L282.8 573.2 L283.3 572.9 L283.7 572.7 L284.2 572.8 L284.7 573.6 L285.1 574.5 L285.6 573.6 L286.1 573.2 L286.5 573.6 L287.0 573.6 L287.5 574.4 L287.9 575.0 L288.4 574.8 L288.9 574.2 L289.3 574.7 L289.8 575.0 L290.3 575.3 L290.7 575.4 L291.2 576.8 L291.7 576.1 L292.1 576.5 L292.6 576.8 L293.1 576.8 L293.5 577.3 L294.0 576.6 L294.5 577.4 L294.9 578.2 L295.4 576.7 L295.8 577.8 L296.3 577.4 L296.8 577.0 L297.2 577.1 L297.7 578.7 L298.1 577.5 L298.6 578.9 L299.1 577.8 L299.5 578.5 L300.0 578.0 L300.5 579.2 L300.9 579.8 L301.4 578.8 L301.8 579.7 L302.3 580.5 L302.8 579.6 L303.2 580.3 L303.7 581.1 L304.1 581.7 L304.6 580.6 L305.1 581.9 L305.5 581.1 L306.0 581.4 L306.5 583.4 L306.9 581.9 L307.4 583.9 L307.8 583.9 L308.3 584.0 L308.8 584.4 L309.2 584.6 L309.7 584.2 L310.1 584.8 L310.6 584.6 L311.1 586.0 L311.5 586.0 L312.0 586.2 L312.5 585.1 L312.9 586.0 L313.4 585.5 L313.9 586.7 L314.3 586.7 L314.8 587.3 L315.3 586.9 L315.7 587.0 L316.2 587.3 L316.7 586.0 L317.1 587.2 L317.6 586.2 L318.1 587.0 L318.5 586.6 L319.0 588.4 L319.5 586.6 L319.9 588.4 L320.4 588.5 L320.8 587.5 L321.3 588.3 L321.8 586.8 L322.2 587.0 L322.7 586.7 L323.1 586.9 L323.6 586.8 L324.1 588.5 L324.5 587.0 L325.0 588.0 L325.5 587.4 L325.9 587.2 L326.4 587.8 L326.8 587.3 L327.3 589.0 L327.8 587.8 L328.2 588.2 L328.7 588.1 L329.2 588.3 L329.6 588.0 L330.1 587.5 L330.6 587.3 L331.0 588.8 L331.5 587.4 L332.0 587.9 L332.4 588.6 L332.9 588.2 L333.4 588.9 L333.8 588.6 L334.3 588.0 L334.8 587.2 L335.2 588.2 L335.7 587.9 L336.2 588.8 L336.6 588.3 L337.1 588.7 L337.5 589.0 L338.0 588.4 L338.4 589.3 L338.9 589.5 L339.4 588.1 L339.8 589.7 L340.3 589.7 L340.7 589.8 L341.2 588.9 L341.7 588.9 L342.1 588.9 L342.6 589.7 L343.1 590.9 L343.5 590.1 L344.0 589.6 L344.5 590.5 L345.0 590.3 L345.4 591.6 L345.9 592.1 L346.4 592.7 L346.8 591.2 L347.3 592.1 L347.8 591.5 L348.3 593.0 L348.7 592.8 L349.2 592.2 L349.7 593.0 L350.2 592.1 L350.6 592.5 L351.1 591.9 L351.6 591.6 L352.1 592.8 L352.5 592.5 L353.0 591.9 L353.5 592.4 L354.0 591.9 L354.5 592.2 L354.9 590.6 L355.4 590.7 L355.9 590.6 L356.4 591.5 L356.8 591.7 L357.3 590.5 L357.8 591.1 L358.3 590.2 L358.7 591.3 L359.2 591.4 L359.7 590.0 L360.2 591.6 L360.6 590.8 L361.1 589.5 L361.6 589.8 L362.0 589.3 L362.5 590.2 L363.0 590.4 L363.5 588.8 L363.9 588.6 L364.4 589.4 L364.9 589.7 L365.3 589.2 L365.8 588.6" fill="none" stroke="#424896" stroke-width="0.9" stroke-linejoin="round" opacity="1.0"/>
<path d="M182.0 601.6 L182.7 576.2 L183.3 552.2 L183.8 545.4 L184.2 540.8 L184.7 534.9 L185.1 528.6 L185.6 524.0 L186.1 521.6 L186.7 521.2 L187.3 523.1 L187.8 525.9 L188.4 529.4 L188.9 532.1 L189.4 532.3 L189.8 534.2 L190.3 536.9 L190.8 538.0 L191.2 537.7 L191.7 537.7 L192.2 539.5 L192.6 537.9 L193.1 540.1 L193.6 539.3 L194.0 539.5 L194.5 539.9 L195.0 540.0 L195.4 540.8 L195.9 539.1 L196.4 539.7 L196.8 539.5 L197.3 538.6 L197.8 538.7 L198.2 537.3 L198.7 537.0 L199.1 538.5 L199.6 540.7 L200.1 541.3 L200.5 542.2 L200.9 543.9 L201.4 544.8 L201.9 545.4 L202.3 547.4 L202.8 548.1 L203.3 548.1 L203.7 549.7 L204.2 550.6 L204.7 550.4 L205.1 549.1 L205.6 547.2 L206.1 547.8 L206.5 545.0 L207.0 544.7 L207.5 541.3 L207.9 535.8 L208.4 532.4 L208.9 529.5 L209.3 529.1 L209.8 527.4 L210.3 525.2 L210.7 524.0 L211.2 520.9 L211.7 521.0 L212.1 520.1 L212.6 519.4 L213.1 518.4 L213.5 518.5 L214.0 518.1 L214.5 516.5 L215.1 516.3 L215.6 514.5 L216.2 515.3 L216.7 514.6 L217.2 514.3 L217.6 512.9 L218.1 510.6 L218.6 509.7 L219.0 509.3 L219.5 506.8 L220.0 506.7 L220.4 504.9 L220.9 503.8 L221.4 501.8 L221.8 501.5 L222.3 498.2 L222.8 496.6 L223.2 495.0 L223.7 494.2 L224.2 489.9 L224.6 488.2 L225.1 485.9 L225.6 484.0 L226.0 481.4 L226.5 478.9 L227.0 480.4 L227.4 483.5 L227.9 486.2 L228.4 486.6 L229.0 486.1 L229.6 483.6 L230.1 483.0 L230.6 479.6 L231.1 476.2 L231.5 473.2 L232.0 470.0 L232.5 470.2 L232.9 470.5 L233.4 472.4 L233.9 473.2 L234.3 474.5 L234.8 476.3 L235.3 477.1 L235.7 478.1 L236.2 479.8 L236.7 481.3 L237.1 481.3 L237.6 484.6 L238.1 484.5 L238.5 485.0 L239.0 485.1 L239.5 484.4 L239.9 484.6 L240.4 484.2 L240.9 485.6 L241.3 484.6 L241.8 484.8 L242.3 485.4 L242.7 485.5 L243.2 486.1 L243.7 485.9 L244.1 486.1 L244.6 486.8 L245.0 487.0 L245.5 487.9 L245.9 487.5 L246.4 489.7 L246.9 489.5 L247.3 488.8 L247.8 489.4 L248.2 489.9 L248.7 490.3 L249.2 490.3 L249.6 492.4 L250.1 493.3 L250.6 492.6 L251.0 493.2 L251.5 492.8 L251.9 493.4 L252.4 494.5 L252.9 500.5 L253.5 508.0 L254.0 491.7 L254.6 476.6 L255.1 463.8 L255.8 474.0 L256.4 484.3 L256.9 486.8 L257.3 487.3 L257.8 490.0 L258.3 492.6 L258.7 494.0 L259.2 495.2 L259.7 495.1 L260.1 496.1 L260.6 496.4 L261.0 498.5 L261.5 498.8 L261.9 500.1 L262.4 499.9 L262.8 500.4 L263.3 502.5 L263.8 503.8 L264.2 504.4 L264.7 505.2 L265.2 506.2 L265.6 506.9 L266.1 506.7 L266.6 508.3 L267.0 508.9 L267.5 509.1 L268.0 507.7 L268.4 506.8 L268.9 505.4 L269.4 505.0 L269.8 504.2 L270.3 501.7 L270.8 501.4 L271.2 500.1 L271.7 498.6 L272.2 495.9 L272.6 494.2 L273.1 492.9 L273.6 491.4 L274.0 490.0 L274.5 489.6 L275.0 489.7 L275.4 489.1 L275.9 487.9 L276.4 487.8 L276.8 487.6 L277.3 485.6 L277.8 486.4 L278.2 486.5 L278.7 485.7 L279.2 482.3 L279.8 478.4 L280.3 474.4 L280.9 472.4 L281.4 468.0 L281.9 463.5 L282.3 458.3 L282.8 451.5 L283.4 450.1 L283.9 449.9 L284.4 448.0 L285.0 445.4 L285.5 445.5 L286.0 445.7 L286.5 447.6 L286.9 447.6 L287.4 446.3 L287.9 448.0 L288.4 448.6 L288.9 449.9 L289.3 451.3 L289.8 453.9 L290.3 455.0 L290.7 456.8 L291.2 461.0 L291.8 468.0 L292.3 475.4 L292.8 483.9 L293.4 490.5 L293.9 492.8 L294.3 494.1 L294.8 494.2 L295.3 485.0 L295.7 475.8 L296.2 466.4 L296.7 468.2 L297.1 468.5 L297.6 469.8 L298.1 470.2 L298.6 472.9 L299.0 472.7 L299.5 473.9 L300.0 475.0 L300.4 476.5 L300.9 476.3 L301.4 478.2 L301.8 478.0 L302.3 478.9 L302.8 479.7 L303.2 479.4 L303.7 481.1 L304.2 481.4 L304.6 481.8 L305.1 484.4 L305.6 483.6 L306.0 484.8 L306.5 485.9 L306.9 486.1 L307.4 486.2 L307.9 487.2 L308.3 487.8 L308.8 488.9 L309.2 488.0 L309.7 489.6 L310.1 489.5 L310.6 490.1 L311.1 491.8 L311.5 491.8 L312.0 492.5 L312.5 493.5 L312.9 494.4 L313.4 494.0 L313.9 494.9 L314.3 495.3 L314.8 495.9 L315.3 496.9 L315.7 496.9 L316.2 497.7 L316.7 497.7 L317.1 498.8 L317.6 498.4 L318.1 498.9 L318.5 499.2 L319.0 497.8 L319.5 498.5 L319.9 499.5 L320.4 499.4 L320.9 498.0 L321.3 498.1 L321.8 498.9 L322.3 498.6 L322.7 499.6 L323.2 499.8 L323.6 501.7 L324.1 502.5 L324.6 503.4 L325.0 502.3 L325.5 504.1 L325.9 504.6 L326.4 504.0 L326.8 506.3 L327.3 507.0 L327.8 506.0 L328.2 508.2 L328.7 507.6 L329.2 508.4 L329.6 510.1 L330.1 510.4 L330.6 509.5 L331.0 510.7 L331.5 511.5 L332.0 511.6 L332.4 511.8 L332.9 512.5 L333.4 513.9 L333.8 512.8 L334.3 514.4 L334.8 514.6 L335.2 514.2 L335.7 515.3 L336.2 516.4 L336.6 516.7 L337.1 516.1 L337.6 518.3 L338.0 518.0 L338.5 518.5 L338.9 516.8 L339.4 517.3 L339.8 516.9 L340.3 518.6 L340.7 517.7 L341.2 517.5 L341.7 518.5 L342.1 519.9 L342.6 520.1 L343.1 519.2 L343.5 519.3 L344.0 521.3 L344.5 520.9 L345.0 521.6 L345.4 520.6 L345.9 520.9 L346.4 522.6 L346.8 522.4 L347.3 522.0 L347.8 524.1 L348.3 523.7 L348.7 524.3 L349.2 522.9 L349.7 524.9 L350.2 523.4 L350.6 525.4 L351.1 524.7 L351.6 524.7 L352.1 525.4 L352.5 526.5 L353.0 525.3 L353.5 525.2 L354.0 526.7 L354.5 526.6 L354.9 526.9 L355.4 527.6 L355.9 528.0 L356.4 528.9 L356.8 529.7 L357.3 530.3 L357.8 531.9 L358.3 531.5 L358.7 532.5 L359.2 532.4 L359.7 533.4 L360.2 533.4 L360.6 534.7 L361.1 534.9 L361.5 537.3 L362.0 537.7 L362.5 537.6 L362.9 539.0 L363.4 540.8 L363.8 539.8 L364.3 542.1 L364.8 542.8 L365.3 544.5 L365.9 546.8 L366.4 547.4 L366.9 549.2 L367.4 551.1 L367.9 551.2 L368.4 549.3 L368.9 549.9 L369.5 549.1 L370.0 548.4 L370.5 547.4 L371.0 547.4 L371.4 546.8 L371.9 547.1 L372.3 547.0 L372.8 548.6 L373.2 547.6 L373.7 547.5 L374.1 547.4 L374.6 549.1 L375.0 549.3 L375.5 548.9 L375.9 548.2 L376.4 548.2 L376.8 548.4 L377.3 548.8 L377.7 548.3 L378.2 549.0 L378.7 548.7 L379.1 550.4 L379.6 550.6 L380.0 549.8 L380.5 549.3 L381.0 551.1 L381.4 549.8 L381.9 550.0 L382.3 549.4 L382.8 550.4 L383.3 550.7 L383.7 551.0 L384.2 550.5 L384.6 551.3 L385.1 550.3 L385.6 551.1 L386.0 550.8 L386.5 551.7 L386.9 551.0 L387.4 551.1 L387.9 551.8 L388.3 551.6 L388.8 552.4 L389.3 552.3 L389.7 552.8 L390.2 552.5 L390.7 552.7 L391.1 553.0 L391.6 552.0 L392.0 551.8 L392.5 553.3 L393.0 551.4 L393.4 552.7 L393.9 552.5 L394.4 551.2 L394.8 552.9 L395.3 553.1 L395.8 552.5 L396.2 552.7 L396.7 552.9 L397.2 551.6 L397.6 552.6 L398.1 552.8 L398.5 553.7 L399.0 553.8 L399.4 554.0 L399.9 553.7 L400.3 554.5 L400.8 554.2 L401.2 554.4 L401.7 553.6 L402.1 553.4 L402.6 553.8 L403.0 554.4 L403.5 554.1 L403.9 555.9 L404.4 555.4 L404.9 555.9 L405.3 556.2 L405.8 556.6 L406.3 556.5 L406.7 555.8 L407.2 557.8 L407.7 558.0 L408.1 557.8 L408.6 558.2 L409.0 558.8 L409.5 557.8 L410.0 559.5 L410.4 558.8 L410.9 558.7 L411.4 559.4 L411.8 560.8 L412.3 559.9 L412.8 561.4 L413.2 562.2 L413.7 561.5" fill="none" stroke="#a8302f" stroke-width="0.95" stroke-linejoin="round" opacity="1.0"/>
<path d="M182.0 601.2 L182.7 594.9 L183.3 584.2 L183.8 578.0 L184.2 568.5 L184.7 561.2 L185.1 555.5 L185.6 545.5 L186.1 537.4 L186.5 527.7 L187.0 518.4 L187.5 513.6 L187.9 507.9 L188.4 504.8 L188.9 497.9 L189.4 492.7 L189.8 486.5 L190.3 481.6 L190.8 478.6 L191.3 476.5 L191.8 471.5 L192.3 467.3 L192.9 466.0 L193.4 466.3 L193.9 461.9 L194.5 461.7 L195.0 465.3 L195.4 470.3 L195.9 473.5 L196.4 477.8 L196.8 480.5 L197.3 484.1 L197.8 479.7 L198.2 473.7 L198.7 467.4 L199.3 454.6 L200.0 444.5 L200.4 458.6 L200.9 473.1 L201.4 488.2 L201.8 500.2 L202.3 513.5 L202.8 519.5 L203.2 523.4 L203.7 529.2 L204.2 527.9 L204.6 523.0 L205.1 522.0 L205.6 517.4 L206.1 514.8 L206.5 510.7 L207.0 507.2 L207.5 502.7 L207.9 497.6 L208.4 492.6 L208.9 493.8 L209.3 496.3 L209.8 497.6 L210.3 497.8 L210.7 501.5 L211.2 501.8 L211.7 502.4 L212.1 501.1 L212.6 501.2 L213.1 500.6 L213.5 501.5 L214.0 501.3 L214.5 504.2 L215.1 506.6 L215.6 510.3 L216.2 512.9 L216.7 513.4 L217.2 514.7 L217.6 514.8 L218.1 516.9 L218.6 518.4 L219.0 517.0 L219.5 519.2 L220.0 518.1 L220.4 517.4 L220.9 519.7 L221.4 518.7 L221.8 518.4 L222.3 519.3 L222.8 518.8 L223.2 519.5 L223.7 519.7 L224.2 515.5 L224.6 511.7 L225.1 506.7 L225.6 505.2 L226.0 504.3 L226.5 503.4 L227.0 503.7 L227.4 502.3 L227.9 502.7 L228.4 503.5 L229.0 505.7 L229.5 508.1 L230.1 507.2 L230.6 508.7 L231.1 508.6 L231.5 508.8 L232.0 508.9 L232.5 508.9 L232.9 507.4 L233.4 508.6 L233.9 504.5 L234.3 505.5 L234.8 502.3 L235.3 502.8 L235.7 499.1 L236.2 500.3 L236.7 497.6 L237.1 496.2 L237.6 493.0 L238.1 489.8 L238.5 489.9 L239.0 486.3 L239.5 485.2 L239.9 486.5 L240.4 486.0 L240.9 485.8 L241.3 484.8 L241.8 484.5 L242.3 485.6 L242.7 485.1 L243.2 484.1 L243.7 484.9 L244.1 485.7 L244.6 485.7 L245.0 485.0 L245.5 484.8 L245.9 484.7 L246.4 484.3 L246.8 484.3 L247.3 484.9 L247.8 483.8 L248.2 485.3 L248.7 485.0 L249.2 484.5 L249.6 482.6 L250.1 483.3 L250.6 484.0 L251.0 483.5 L251.5 486.4 L252.0 486.3 L252.4 486.0 L252.9 487.1 L253.4 486.1 L253.8 486.7 L254.3 488.0 L254.8 488.9 L255.2 488.9 L255.7 487.4 L256.2 489.4 L256.6 490.5 L257.1 490.4 L257.6 491.2 L258.0 491.6 L258.5 489.8 L259.0 491.1 L259.5 493.0 L259.9 495.3 L260.4 494.7 L260.9 497.4 L261.4 498.3 L261.9 498.5 L262.3 499.9 L262.8 502.0 L263.3 502.6 L263.8 502.4 L264.2 505.1 L264.7 504.4 L265.2 506.1 L265.6 508.9 L266.1 509.7 L266.6 509.4 L267.0 510.5 L267.5 512.5 L268.0 514.3 L268.4 515.1 L268.9 516.9 L269.4 515.9 L269.8 515.7 L270.3 514.6 L270.8 513.4 L271.2 513.2 L271.7 512.9 L272.2 513.8 L272.6 515.4 L273.1 514.6 L273.6 514.8 L274.0 517.4 L274.5 516.9 L275.0 518.1 L275.4 518.0 L275.9 520.8 L276.4 519.6 L276.8 519.9 L277.3 521.7 L277.7 521.1 L278.2 520.8 L278.6 522.8 L279.1 521.8 L279.5 521.9 L280.0 523.9 L280.5 523.6 L280.9 523.8 L281.4 522.6 L281.9 524.4 L282.3 524.0 L282.8 524.9 L283.3 523.9 L283.7 525.3 L284.2 525.5 L284.7 524.6 L285.1 525.6 L285.6 526.2 L286.1 526.9 L286.5 526.9 L287.0 526.7 L287.5 525.0 L287.9 526.5 L288.4 526.9 L288.9 525.3 L289.3 526.5 L289.8 527.8 L290.3 529.2 L290.7 530.5 L291.2 529.4 L291.7 532.1 L292.1 534.0 L292.6 534.7 L293.1 535.0 L293.5 535.5 L294.0 539.2 L294.5 540.2 L294.9 540.9 L295.4 541.3 L295.8 543.9 L296.3 545.0 L296.7 546.0 L297.2 546.9 L297.6 547.4 L298.1 548.5 L298.6 549.4 L299.0 550.0 L299.5 551.2 L300.0 550.8 L300.4 553.2 L300.9 552.8 L301.4 553.0 L301.8 553.9 L302.3 555.0 L302.8 555.8 L303.2 557.5 L303.7 556.3 L304.2 557.0 L304.6 557.6 L305.1 557.6 L305.5 559.6 L306.0 558.2 L306.5 558.4 L306.9 560.2 L307.4 561.0 L307.8 561.7 L308.3 561.3 L308.8 561.0 L309.2 562.9 L309.7 562.9 L310.1 562.6 L310.6 563.2 L311.1 564.7 L311.5 565.3 L312.0 565.6 L312.5 563.8 L312.9 564.8 L313.4 565.5 L313.9 565.3 L314.3 567.5 L314.8 566.0 L315.3 568.8 L315.7 568.4 L316.2 568.9 L316.7 568.8 L317.1 570.8 L317.6 570.2 L318.1 571.3 L318.5 571.5 L319.0 571.1 L319.5 572.1 L319.9 570.9 L320.4 570.7 L320.9 572.2 L321.3 571.5 L321.8 571.1 L322.3 572.3 L322.7 571.9 L323.2 571.1 L323.7 573.3 L324.1 572.5 L324.6 574.0 L325.1 572.9 L325.5 574.1 L326.0 572.3 L326.4 572.2 L326.9 573.2 L327.4 573.9 L327.8 574.2 L328.3 573.7 L328.8 572.3 L329.2 573.2 L329.7 572.3 L330.1 573.3 L330.6 575.0 L331.1 573.4 L331.5 574.4 L332.0 574.3 L332.4 573.0 L332.9 574.6 L333.4 573.0 L333.8 573.5 L334.3 574.7 L334.8 573.5 L335.2 576.0 L335.7 574.6 L336.2 575.3 L336.6 576.3 L337.1 574.1 L337.6 576.7 L338.0 574.1 L338.5 575.8 L339.0 576.1 L339.5 577.1 L339.9 575.5 L340.4 577.2 L340.9 576.5 L341.4 576.1 L341.9 575.4 L342.4 575.7 L342.9 576.2 L343.3 576.2 L343.8 576.4 L344.3 577.8 L344.8 576.7 L345.2 577.6 L345.7 576.1 L346.1 576.5 L346.6 578.3 L347.1 578.9 L347.5 577.5 L348.0 576.8 L348.4 577.5 L348.9 578.1 L349.4 578.2 L349.8 578.9 L350.3 578.4 L350.7 579.5 L351.2 580.0 L351.7 580.2 L352.1 580.2 L352.6 579.9 L353.0 579.2 L353.5 581.0 L354.0 579.6 L354.4 581.3 L354.9 580.3 L355.4 581.0 L355.8 580.8 L356.3 581.4 L356.8 580.6 L357.2 581.5 L357.7 582.1 L358.1 581.2 L358.6 582.0 L359.1 581.7 L359.5 581.9 L360.0 581.8 L360.5 582.5 L360.9 583.1 L361.4 581.7 L361.9 581.8 L362.3 583.9 L362.8 581.9 L363.3 584.1 L363.7 584.1 L364.2 582.8 L364.6 584.1 L365.1 583.2 L365.6 585.1 L366.0 583.3 L366.5 583.2 L366.9 583.2 L367.4 585.2 L367.9 583.9 L368.3 584.4 L368.8 586.4 L369.2 585.9 L369.7 586.0 L370.2 585.7 L370.6 586.0 L371.1 584.4 L371.5 586.8 L372.0 585.6 L372.5 587.1 L372.9 585.9 L373.4 587.3 L373.9 584.7 L374.3 587.4 L374.8 585.0 L375.3 586.1 L375.7 586.0 L376.2 587.5 L376.6 586.7 L377.1 587.4 L377.6 587.2 L378.0 585.9 L378.5 585.1 L379.0 585.1 L379.4 586.7 L379.9 587.4 L380.4 586.6 L380.8 585.7 L381.3 586.4 L381.8 586.5 L382.2 585.4 L382.7 586.6 L383.1 585.3 L383.6 584.8 L384.1 584.9 L384.5 586.1 L385.0 586.6 L385.4 585.3 L385.9 585.8 L386.4 586.6 L386.8 585.4 L387.3 586.2 L387.7 586.4 L388.2 585.8 L388.7 585.3 L389.1 586.6 L389.6 586.7 L390.0 585.2 L390.5 587.0 L391.0 586.5 L391.4 587.1 L391.9 586.8 L392.4 586.0 L392.8 586.6 L393.3 585.4 L393.8 586.3 L394.2 584.7 L394.7 585.4 L395.1 585.8 L395.6 586.8 L396.1 586.3 L396.5 586.9 L397.0 586.7 L397.5 587.0 L397.9 585.9 L398.4 585.9 L398.9 585.5 L399.3 584.7 L399.8 586.3 L400.3 585.9 L400.7 584.6 L401.2 584.9 L401.7 584.9 L402.1 586.3 L402.6 586.0 L403.0 585.0 L403.5 586.4 L404.0 586.1 L404.4 585.3 L404.9 585.8 L405.4 587.4 L405.8 585.1 L406.3 585.4 L406.8 586.4 L407.2 587.1 L407.7 587.4 L408.1 586.0 L408.6 587.1 L409.1 585.3 L409.5 586.1 L410.0 587.5 L410.5 587.0 L410.9 586.4 L411.4 586.9 L411.8 586.6 L412.3 586.8 L412.8 587.8 L413.2 588.1 L413.7 586.8" fill="none" stroke="#111" stroke-width="0.95" stroke-linejoin="round" opacity="1.0"/>
</svg>
</body></html>
